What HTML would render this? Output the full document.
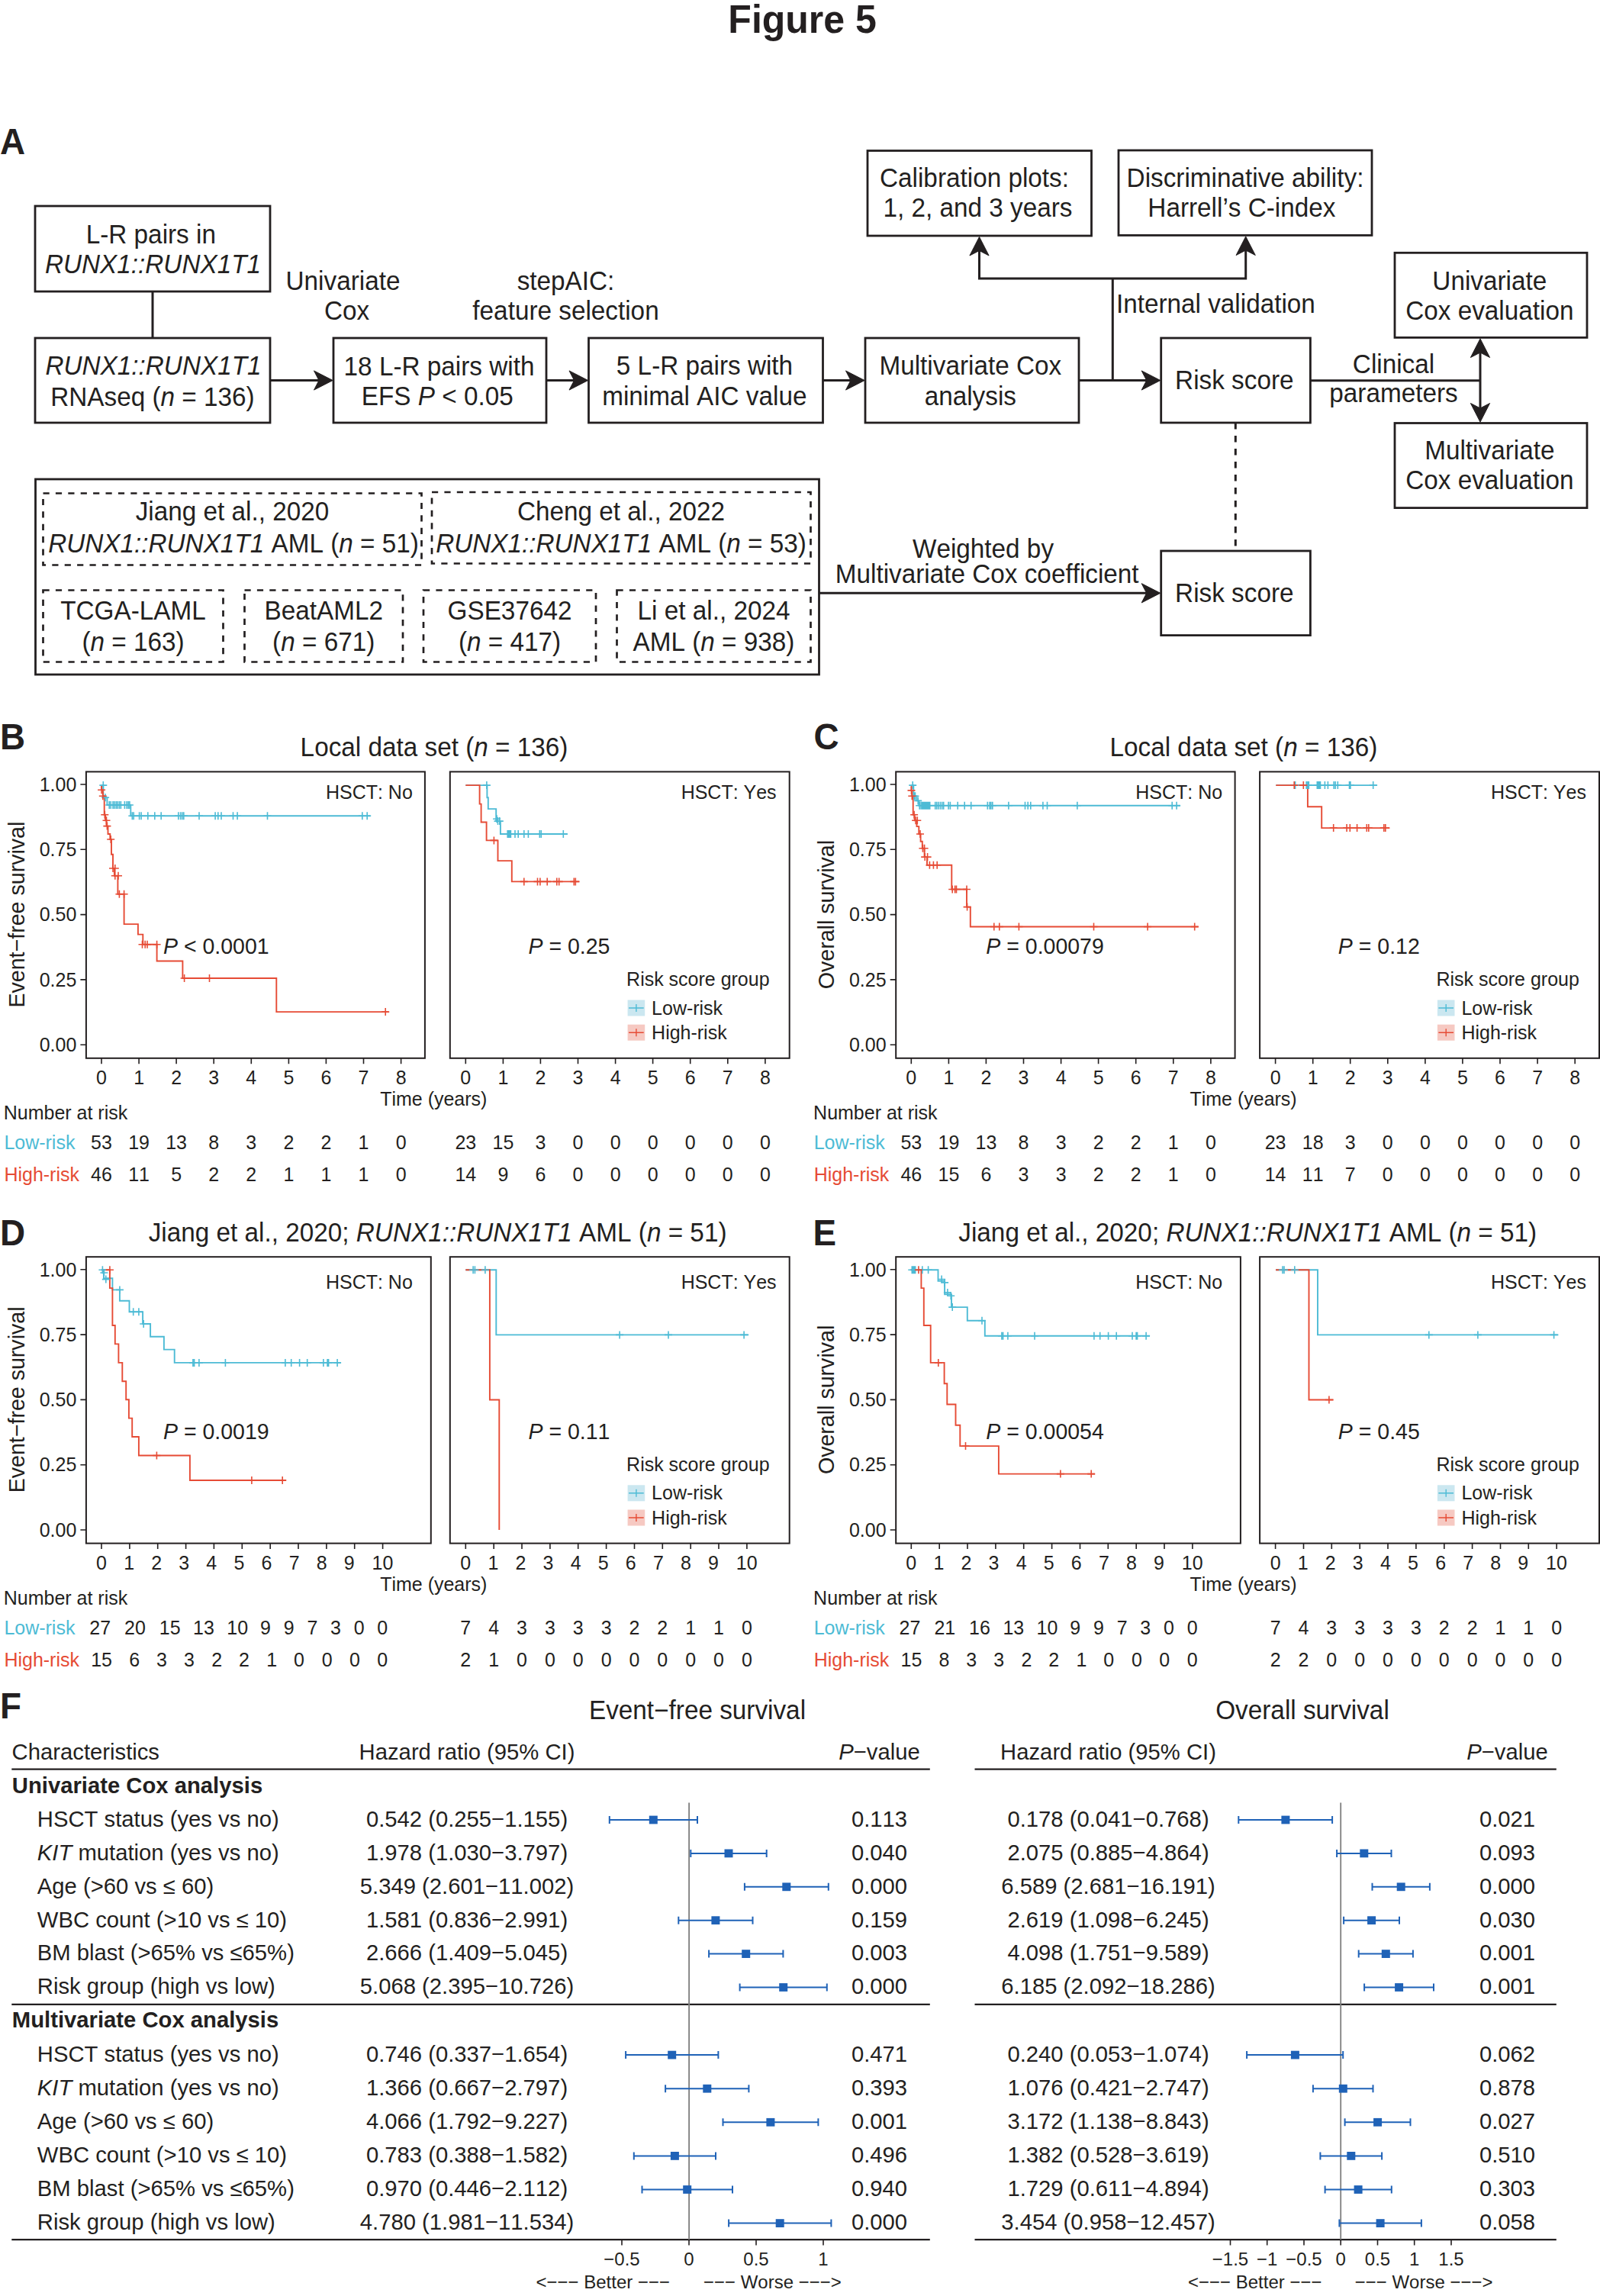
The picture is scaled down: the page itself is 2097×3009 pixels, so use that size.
<!DOCTYPE html>
<html lang="en"><head><meta charset="utf-8"><title>Figure 5</title>
<style>
html,body{margin:0;padding:0;background:#fff;}
body{width:2097px;height:3009px;overflow:hidden;}
svg{display:block;font-family:"Liberation Sans",Arial,Helvetica,sans-serif;fill:#231f20;font-kerning:none;font-variant-ligatures:none;}
</style></head><body>
<svg width="2097" height="3009" viewBox="0 0 2097 3009">
<rect x="0" y="0" width="2097" height="3009" fill="#ffffff" stroke="none"/>
<text transform="translate(1051.6 42.8) scale(1 1.03)" font-size="50" text-anchor="middle" font-weight="bold">Figure 5</text>
<text transform="translate(0.0 202.0) scale(1 1.03)" font-size="45.8" font-weight="bold">A</text>
<text transform="translate(0.0 982.0) scale(1 1.03)" font-size="45.8" font-weight="bold">B</text>
<text transform="translate(1066.5 982.0) scale(1 1.03)" font-size="45.8" font-weight="bold">C</text>
<text transform="translate(0.0 1632.4) scale(1 1.03)" font-size="45.8" font-weight="bold">D</text>
<text transform="translate(1065.5 1632.4) scale(1 1.03)" font-size="45.8" font-weight="bold">E</text>
<text transform="translate(0.0 2251.9) scale(1 1.03)" font-size="45.8" font-weight="bold">F</text>
<rect x="46.0" y="270.0" width="308.0" height="112.0" fill="none" stroke="#231f20" stroke-width="2.8"/>
<text transform="translate(197.8 319.0) scale(1 1.03)" font-size="33.3" text-anchor="middle">L-R pairs in</text>
<text transform="translate(200.5 357.8) scale(1 1.03)" font-size="33.3" text-anchor="middle"><tspan font-style="italic">RUNX1::RUNX1T1</tspan></text>
<line x1="200.0" y1="382.0" x2="200.0" y2="443.0" stroke="#231f20" stroke-width="3.0"/>
<rect x="46.0" y="443.0" width="308.0" height="111.0" fill="none" stroke="#231f20" stroke-width="2.8"/>
<text transform="translate(201.0 491.3) scale(1 1.03)" font-size="33.3" text-anchor="middle"><tspan font-style="italic">RUNX1::RUNX1T1</tspan></text>
<text transform="translate(200.0 532.0) scale(1 1.03)" font-size="33.3" text-anchor="middle">RNAseq (<tspan font-style="italic">n</tspan> = 136)</text>
<line x1="354.0" y1="498.5" x2="425.0" y2="498.5" stroke="#231f20" stroke-width="3.0"/>
<polygon points="436.1,498.5 411.5,485.9 418.0,498.5 411.5,511.1" fill="#231f20" stroke="#231f20" stroke-width="1"/>
<text transform="translate(449.5 380.0) scale(1 1.03)" font-size="33.3" text-anchor="middle">Univariate</text>
<text transform="translate(454.5 419.0) scale(1 1.03)" font-size="33.3" text-anchor="middle">Cox</text>
<rect x="437.0" y="443.0" width="279.0" height="111.0" fill="none" stroke="#231f20" stroke-width="2.8"/>
<text transform="translate(575.5 491.5) scale(1 1.03)" font-size="33.3" text-anchor="middle">18 L-R pairs with</text>
<text transform="translate(573.3 530.5) scale(1 1.03)" font-size="33.3" text-anchor="middle">EFS <tspan font-style="italic">P</tspan> &lt; 0.05</text>
<line x1="716.0" y1="498.5" x2="760.0" y2="498.5" stroke="#231f20" stroke-width="3.0"/>
<polygon points="770.6,498.5 746.0,485.9 752.5,498.5 746.0,511.1" fill="#231f20" stroke="#231f20" stroke-width="1"/>
<text transform="translate(741.5 380.0) scale(1 1.03)" font-size="33.3" text-anchor="middle">stepAIC:</text>
<text transform="translate(741.5 419.0) scale(1 1.03)" font-size="33.3" text-anchor="middle">feature selection</text>
<rect x="771.5" y="443.0" width="307.0" height="111.0" fill="none" stroke="#231f20" stroke-width="2.8"/>
<text transform="translate(923.5 491.0) scale(1 1.03)" font-size="33.3" text-anchor="middle">5 L-R pairs with</text>
<text transform="translate(923.3 530.5) scale(1 1.03)" font-size="33.3" text-anchor="middle">minimal AIC value</text>
<line x1="1078.5" y1="498.5" x2="1122.0" y2="498.5" stroke="#231f20" stroke-width="3.0"/>
<polygon points="1133.1,498.5 1108.5,485.9 1115.0,498.5 1108.5,511.1" fill="#231f20" stroke="#231f20" stroke-width="1"/>
<rect x="1134.0" y="443.0" width="280.0" height="111.0" fill="none" stroke="#231f20" stroke-width="2.8"/>
<text transform="translate(1271.8 491.0) scale(1 1.03)" font-size="33.3" text-anchor="middle">Multivariate Cox</text>
<text transform="translate(1271.8 530.5) scale(1 1.03)" font-size="33.3" text-anchor="middle">analysis</text>
<line x1="1414.0" y1="498.5" x2="1510.0" y2="498.5" stroke="#231f20" stroke-width="3.0"/>
<polygon points="1520.8,498.5 1496.2,485.9 1502.7,498.5 1496.2,511.1" fill="#231f20" stroke="#231f20" stroke-width="1"/>
<path d="M1458.3,498.5 V365 M1283.5,322 V365 H1632.7 V322" fill="none" stroke="#231f20" stroke-width="3.0"/>
<polygon points="1283.5,310.4 1270.9,335.0 1283.5,328.5 1296.1,335.0" fill="#231f20" stroke="#231f20" stroke-width="1"/>
<polygon points="1632.7,309.9 1620.1,334.5 1632.7,328.0 1645.3,334.5" fill="#231f20" stroke="#231f20" stroke-width="1"/>
<rect x="1137.0" y="197.5" width="293.5" height="111.5" fill="none" stroke="#231f20" stroke-width="2.8"/>
<text transform="translate(1277.0 245.0) scale(1 1.03)" font-size="33.3" text-anchor="middle">Calibration plots:</text>
<text transform="translate(1281.5 284.0) scale(1 1.03)" font-size="33.3" text-anchor="middle">1, 2, and 3 years</text>
<rect x="1466.0" y="197.0" width="332.0" height="111.4" fill="none" stroke="#231f20" stroke-width="2.8"/>
<text transform="translate(1632.0 245.0) scale(1 1.03)" font-size="33.3" text-anchor="middle">Discriminative ability:</text>
<text transform="translate(1627.4 284.0) scale(1 1.03)" font-size="33.3" text-anchor="middle">Harrell’s C-index</text>
<text transform="translate(1462.9 410.0) scale(1 1.03)" font-size="33.3">Internal validation</text>
<rect x="1521.7" y="443.0" width="195.7" height="111.0" fill="none" stroke="#231f20" stroke-width="2.8"/>
<text transform="translate(1617.8 509.7) scale(1 1.03)" font-size="33.3" text-anchor="middle">Risk score</text>
<line x1="1717.4" y1="498.7" x2="1940.0" y2="498.7" stroke="#231f20" stroke-width="3.0"/>
<line x1="1940.0" y1="455.0" x2="1940.0" y2="542.0" stroke="#231f20" stroke-width="3.0"/>
<polygon points="1940.0,443.9 1927.4,468.5 1940.0,462.0 1952.6,468.5" fill="#231f20" stroke="#231f20" stroke-width="1"/>
<polygon points="1940.0,553.1 1927.4,528.5 1940.0,535.0 1952.6,528.5" fill="#231f20" stroke="#231f20" stroke-width="1"/>
<text transform="translate(1826.5 488.7) scale(1 1.03)" font-size="33.3" text-anchor="middle">Clinical</text>
<text transform="translate(1826.5 527.0) scale(1 1.03)" font-size="33.3" text-anchor="middle">parameters</text>
<rect x="1828.0" y="331.3" width="252.0" height="111.1" fill="none" stroke="#231f20" stroke-width="2.8"/>
<text transform="translate(1952.3 379.7) scale(1 1.03)" font-size="33.3" text-anchor="middle">Univariate</text>
<text transform="translate(1952.3 418.7) scale(1 1.03)" font-size="33.3" text-anchor="middle">Cox evaluation</text>
<rect x="1828.0" y="554.5" width="252.0" height="111.1" fill="none" stroke="#231f20" stroke-width="2.8"/>
<text transform="translate(1952.3 602.3) scale(1 1.03)" font-size="33.3" text-anchor="middle">Multivariate</text>
<text transform="translate(1952.3 640.7) scale(1 1.03)" font-size="33.3" text-anchor="middle">Cox evaluation</text>
<line x1="1619.3" y1="554.0" x2="1619.3" y2="722.0" stroke="#231f20" stroke-width="3.0" stroke-dasharray="8.5 8.5"/>
<rect x="1521.7" y="722.0" width="195.7" height="110.6" fill="none" stroke="#231f20" stroke-width="2.8"/>
<text transform="translate(1617.8 789.3) scale(1 1.03)" font-size="33.3" text-anchor="middle">Risk score</text>
<rect x="46.5" y="628.0" width="1027.0" height="256.0" fill="none" stroke="#231f20" stroke-width="2.8"/>
<rect x="56.5" y="646.5" width="496.0" height="94.0" fill="none" stroke="#231f20" stroke-width="2.7" stroke-dasharray="8.2 8.2"/>
<text transform="translate(304.5 681.5) scale(1 1.03)" font-size="33.3" text-anchor="middle">Jiang et al., 2020</text>
<text transform="translate(306.0 723.5) scale(1 1.03)" font-size="33.3" text-anchor="middle"><tspan font-style="italic">RUNX1::RUNX1T1</tspan> AML (<tspan font-style="italic">n</tspan> = 51)</text>
<rect x="566.0" y="645.0" width="496.5" height="93.5" fill="none" stroke="#231f20" stroke-width="2.7" stroke-dasharray="8.2 8.2"/>
<text transform="translate(814.0 681.5) scale(1 1.03)" font-size="33.3" text-anchor="middle">Cheng et al., 2022</text>
<text transform="translate(814.0 723.5) scale(1 1.03)" font-size="33.3" text-anchor="middle"><tspan font-style="italic">RUNX1::RUNX1T1</tspan> AML (<tspan font-style="italic">n</tspan> = 53)</text>
<rect x="56.5" y="773.5" width="236.0" height="94.0" fill="none" stroke="#231f20" stroke-width="2.7" stroke-dasharray="8.2 8.2"/>
<text transform="translate(174.5 811.5) scale(1 1.03)" font-size="33.3" text-anchor="middle">TCGA-LAML</text>
<text transform="translate(174.5 852.5) scale(1 1.03)" font-size="33.3" text-anchor="middle">(<tspan font-style="italic">n</tspan> = 163)</text>
<rect x="320.5" y="773.5" width="207.5" height="94.0" fill="none" stroke="#231f20" stroke-width="2.7" stroke-dasharray="8.2 8.2"/>
<text transform="translate(424.2 811.5) scale(1 1.03)" font-size="33.3" text-anchor="middle">BeatAML2</text>
<text transform="translate(424.2 852.5) scale(1 1.03)" font-size="33.3" text-anchor="middle">(<tspan font-style="italic">n</tspan> = 671)</text>
<rect x="555.0" y="773.5" width="226.0" height="94.0" fill="none" stroke="#231f20" stroke-width="2.7" stroke-dasharray="8.2 8.2"/>
<text transform="translate(668.0 811.5) scale(1 1.03)" font-size="33.3" text-anchor="middle">GSE37642</text>
<text transform="translate(668.0 852.5) scale(1 1.03)" font-size="33.3" text-anchor="middle">(<tspan font-style="italic">n</tspan> = 417)</text>
<rect x="808.5" y="773.5" width="254.0" height="94.0" fill="none" stroke="#231f20" stroke-width="2.7" stroke-dasharray="8.2 8.2"/>
<text transform="translate(935.5 811.5) scale(1 1.03)" font-size="33.3" text-anchor="middle">Li et al., 2024</text>
<text transform="translate(935.5 852.5) scale(1 1.03)" font-size="33.3" text-anchor="middle">AML (<tspan font-style="italic">n</tspan> = 938)</text>
<line x1="1073.5" y1="777.3" x2="1510.0" y2="777.3" stroke="#231f20" stroke-width="3.0"/>
<polygon points="1520.8,777.3 1496.2,764.7 1502.7,777.3 1496.2,789.9" fill="#231f20" stroke="#231f20" stroke-width="1"/>
<text transform="translate(1288.5 731.0) scale(1 1.03)" font-size="33.3" text-anchor="middle">Weighted by</text>
<text transform="translate(1293.7 764.0) scale(1 1.03)" font-size="33.3" text-anchor="middle">Multivariate Cox coefficient</text>
<text transform="translate(569.0 991.0) scale(1 1.03)" font-size="33.3" text-anchor="middle">Local data set (<tspan font-style="italic">n</tspan> = 136)</text>
<rect x="112.9" y="1011.4" width="444.0" height="375.4" fill="none" stroke="#231f20" stroke-width="2"/>
<path d="M133.0,1386.8v7.5M182.1,1386.8v7.5M231.1,1386.8v7.5M280.2,1386.8v7.5M329.3,1386.8v7.5M378.4,1386.8v7.5M427.4,1386.8v7.5M476.5,1386.8v7.5M525.6,1386.8v7.5M112.9,1028.0h-7.5M112.9,1113.3h-7.5M112.9,1198.6h-7.5M112.9,1283.9h-7.5M112.9,1369.2h-7.5" fill="none" stroke="#231f20" stroke-width="1.6"/>
<rect x="589.8" y="1011.4" width="444.9" height="375.4" fill="none" stroke="#231f20" stroke-width="2"/>
<path d="M610.3,1386.8v7.5M659.4,1386.8v7.5M708.4,1386.8v7.5M757.5,1386.8v7.5M806.6,1386.8v7.5M855.6,1386.8v7.5M904.7,1386.8v7.5M953.8,1386.8v7.5M1002.9,1386.8v7.5" fill="none" stroke="#231f20" stroke-width="1.6"/>
<text transform="translate(100.3 1036.7) scale(1 1.03)" font-size="25" text-anchor="end">1.00</text>
<text transform="translate(100.3 1122.0) scale(1 1.03)" font-size="25" text-anchor="end">0.75</text>
<text transform="translate(100.3 1207.3) scale(1 1.03)" font-size="25" text-anchor="end">0.50</text>
<text transform="translate(100.3 1292.6) scale(1 1.03)" font-size="25" text-anchor="end">0.25</text>
<text transform="translate(100.3 1377.9) scale(1 1.03)" font-size="25" text-anchor="end">0.00</text>
<text transform="translate(31.6,1198.6) rotate(-90) scale(1 1.03)" font-size="28.6" text-anchor="middle">Event−free survival</text>
<text transform="translate(133.0 1421.1) scale(1 1.03)" font-size="25" text-anchor="middle">0</text>
<text transform="translate(182.1 1421.1) scale(1 1.03)" font-size="25" text-anchor="middle">1</text>
<text transform="translate(231.1 1421.1) scale(1 1.03)" font-size="25" text-anchor="middle">2</text>
<text transform="translate(280.2 1421.1) scale(1 1.03)" font-size="25" text-anchor="middle">3</text>
<text transform="translate(329.3 1421.1) scale(1 1.03)" font-size="25" text-anchor="middle">4</text>
<text transform="translate(378.4 1421.1) scale(1 1.03)" font-size="25" text-anchor="middle">5</text>
<text transform="translate(427.4 1421.1) scale(1 1.03)" font-size="25" text-anchor="middle">6</text>
<text transform="translate(476.5 1421.1) scale(1 1.03)" font-size="25" text-anchor="middle">7</text>
<text transform="translate(525.6 1421.1) scale(1 1.03)" font-size="25" text-anchor="middle">8</text>
<text transform="translate(610.3 1421.1) scale(1 1.03)" font-size="25" text-anchor="middle">0</text>
<text transform="translate(659.4 1421.1) scale(1 1.03)" font-size="25" text-anchor="middle">1</text>
<text transform="translate(708.4 1421.1) scale(1 1.03)" font-size="25" text-anchor="middle">2</text>
<text transform="translate(757.5 1421.1) scale(1 1.03)" font-size="25" text-anchor="middle">3</text>
<text transform="translate(806.6 1421.1) scale(1 1.03)" font-size="25" text-anchor="middle">4</text>
<text transform="translate(855.6 1421.1) scale(1 1.03)" font-size="25" text-anchor="middle">5</text>
<text transform="translate(904.7 1421.1) scale(1 1.03)" font-size="25" text-anchor="middle">6</text>
<text transform="translate(953.8 1421.1) scale(1 1.03)" font-size="25" text-anchor="middle">7</text>
<text transform="translate(1002.9 1421.1) scale(1 1.03)" font-size="25" text-anchor="middle">8</text>
<text transform="translate(568.3 1448.8) scale(1 1.03)" font-size="25" text-anchor="middle">Time (years)</text>
<text transform="translate(4.8 1467.2) scale(1 1.03)" font-size="25">Number at risk</text>
<text transform="translate(5.4 1506.2) scale(1 1.03)" font-size="25" fill="#4dbbd5">Low-risk</text>
<text transform="translate(5.4 1547.8) scale(1 1.03)" font-size="25" fill="#e64b35">High-risk</text>
<text transform="translate(133.0 1506.2) scale(1 1.03)" font-size="25" text-anchor="middle">53</text>
<text transform="translate(182.1 1506.2) scale(1 1.03)" font-size="25" text-anchor="middle">19</text>
<text transform="translate(231.1 1506.2) scale(1 1.03)" font-size="25" text-anchor="middle">13</text>
<text transform="translate(280.2 1506.2) scale(1 1.03)" font-size="25" text-anchor="middle">8</text>
<text transform="translate(329.3 1506.2) scale(1 1.03)" font-size="25" text-anchor="middle">3</text>
<text transform="translate(378.4 1506.2) scale(1 1.03)" font-size="25" text-anchor="middle">2</text>
<text transform="translate(427.4 1506.2) scale(1 1.03)" font-size="25" text-anchor="middle">2</text>
<text transform="translate(476.5 1506.2) scale(1 1.03)" font-size="25" text-anchor="middle">1</text>
<text transform="translate(525.6 1506.2) scale(1 1.03)" font-size="25" text-anchor="middle">0</text>
<text transform="translate(133.0 1547.8) scale(1 1.03)" font-size="25" text-anchor="middle">46</text>
<text transform="translate(182.1 1547.8) scale(1 1.03)" font-size="25" text-anchor="middle">11</text>
<text transform="translate(231.1 1547.8) scale(1 1.03)" font-size="25" text-anchor="middle">5</text>
<text transform="translate(280.2 1547.8) scale(1 1.03)" font-size="25" text-anchor="middle">2</text>
<text transform="translate(329.3 1547.8) scale(1 1.03)" font-size="25" text-anchor="middle">2</text>
<text transform="translate(378.4 1547.8) scale(1 1.03)" font-size="25" text-anchor="middle">1</text>
<text transform="translate(427.4 1547.8) scale(1 1.03)" font-size="25" text-anchor="middle">1</text>
<text transform="translate(476.5 1547.8) scale(1 1.03)" font-size="25" text-anchor="middle">1</text>
<text transform="translate(525.6 1547.8) scale(1 1.03)" font-size="25" text-anchor="middle">0</text>
<text transform="translate(610.3 1506.2) scale(1 1.03)" font-size="25" text-anchor="middle">23</text>
<text transform="translate(659.4 1506.2) scale(1 1.03)" font-size="25" text-anchor="middle">15</text>
<text transform="translate(708.4 1506.2) scale(1 1.03)" font-size="25" text-anchor="middle">3</text>
<text transform="translate(757.5 1506.2) scale(1 1.03)" font-size="25" text-anchor="middle">0</text>
<text transform="translate(806.6 1506.2) scale(1 1.03)" font-size="25" text-anchor="middle">0</text>
<text transform="translate(855.6 1506.2) scale(1 1.03)" font-size="25" text-anchor="middle">0</text>
<text transform="translate(904.7 1506.2) scale(1 1.03)" font-size="25" text-anchor="middle">0</text>
<text transform="translate(953.8 1506.2) scale(1 1.03)" font-size="25" text-anchor="middle">0</text>
<text transform="translate(1002.9 1506.2) scale(1 1.03)" font-size="25" text-anchor="middle">0</text>
<text transform="translate(610.3 1547.8) scale(1 1.03)" font-size="25" text-anchor="middle">14</text>
<text transform="translate(659.4 1547.8) scale(1 1.03)" font-size="25" text-anchor="middle">9</text>
<text transform="translate(708.4 1547.8) scale(1 1.03)" font-size="25" text-anchor="middle">6</text>
<text transform="translate(757.5 1547.8) scale(1 1.03)" font-size="25" text-anchor="middle">0</text>
<text transform="translate(806.6 1547.8) scale(1 1.03)" font-size="25" text-anchor="middle">0</text>
<text transform="translate(855.6 1547.8) scale(1 1.03)" font-size="25" text-anchor="middle">0</text>
<text transform="translate(904.7 1547.8) scale(1 1.03)" font-size="25" text-anchor="middle">0</text>
<text transform="translate(953.8 1547.8) scale(1 1.03)" font-size="25" text-anchor="middle">0</text>
<text transform="translate(1002.9 1547.8) scale(1 1.03)" font-size="25" text-anchor="middle">0</text>
<text transform="translate(540.8 1046.8) scale(1 1.03)" font-size="25" text-anchor="end">HSCT: No</text>
<text transform="translate(1017.6 1046.8) scale(1 1.03)" font-size="25" text-anchor="end">HSCT: Yes</text>
<text transform="translate(214.0 1250.2) scale(1 1.03)" font-size="28.5"><tspan font-style="italic">P</tspan> &lt; 0.0001</text>
<text transform="translate(692.5 1250.2) scale(1 1.03)" font-size="28.5"><tspan font-style="italic">P</tspan> = 0.25</text>
<text transform="translate(821.1 1292.2) scale(1 1.03)" font-size="25">Risk score group</text>
<rect x="822.6" y="1310.5" width="22.6" height="21" fill="#cbe7f0"/>
<path d="M824.1,1321.0h19.6M833.9,1316.0v10" fill="none" stroke="#4dbbd5" stroke-width="1.4"/>
<text transform="translate(854.1 1329.5) scale(1 1.03)" font-size="25">Low-risk</text>
<rect x="822.6" y="1342.7" width="22.6" height="21" fill="#f6c9c2"/>
<path d="M824.1,1353.2h19.6M833.9,1348.2v10" fill="none" stroke="#e64b35" stroke-width="1.4"/>
<text transform="translate(854.1 1361.7) scale(1 1.03)" font-size="25">High-risk</text>
<path d="M133.1,1029.1 H135.3 V1045.2 H140.4 V1055.0 H171.3 V1069.3 H485.5" fill="none" stroke="#4dbbd5" stroke-width="1.9" stroke-linejoin="miter"/>
<path d="M133.1,1029.1 H133.1 V1035.3 H134.8 V1043.2 H136.7 V1067.7 H138.1 V1075.2 H139.5 V1082.6 H141.5 V1093.0 H144.3 V1100.0 H146.0 V1119.7 H148.0 V1138.0 H149.9 V1147.8 H154.4 V1171.7 H162.6 V1211.1 H180.9 V1224.6 H187.3 V1237.8 H205.6 V1259.5 H239.4 V1282.0 H362.3 V1326.1 H509.4" fill="none" stroke="#e64b35" stroke-width="1.9" stroke-linejoin="miter"/>
<path d="M610.3,1029.1 H638.4 V1045.2 H639.8 V1060.1 H650.2 V1076.1 H655.9 V1093.0 H743.9" fill="none" stroke="#4dbbd5" stroke-width="1.9" stroke-linejoin="miter"/>
<path d="M610.3,1029.1 H628.6 V1053.6 H630.6 V1077.5 H637.6 V1101.4 H652.5 V1128.1 H670.8 V1155.4 H759.4" fill="none" stroke="#e64b35" stroke-width="1.9" stroke-linejoin="miter"/>
<path d="M130.3,1029.1h10M135.3,1024.1v10M133.1,1045.2h10M138.1,1040.2v10M138.2,1055.0h10M143.2,1050.0v10M140.2,1055.0h10M145.2,1050.0v10M143.0,1055.0h10M148.0,1050.0v10M144.9,1055.0h10M149.9,1050.0v10M147.2,1055.0h10M152.2,1050.0v10M149.2,1055.0h10M154.2,1050.0v10M151.4,1055.0h10M156.4,1050.0v10M153.4,1055.0h10M158.4,1050.0v10M158.4,1055.0h10M163.4,1050.0v10M161.2,1055.0h10M166.2,1050.0v10M163.2,1055.0h10M168.2,1050.0v10M164.9,1055.0h10M169.9,1050.0v10M168.3,1069.3h10M173.3,1064.3v10M170.2,1069.3h10M175.2,1064.3v10M177.6,1069.3h10M182.6,1064.3v10M180.1,1069.3h10M185.1,1064.3v10M188.8,1069.3h10M193.8,1064.3v10M197.8,1069.3h10M202.8,1064.3v10M206.2,1069.3h10M211.2,1064.3v10M228.8,1069.3h10M233.8,1064.3v10M231.6,1069.3h10M236.6,1064.3v10M233.8,1069.3h10M238.8,1064.3v10M235.8,1069.3h10M240.8,1064.3v10M256.0,1069.3h10M261.0,1064.3v10M277.1,1069.3h10M282.1,1064.3v10M280.8,1069.3h10M285.8,1064.3v10M285.0,1069.3h10M290.0,1064.3v10M300.5,1069.3h10M305.5,1064.3v10M306.1,1069.3h10M311.1,1064.3v10M345.5,1069.3h10M350.5,1064.3v10M469.8,1069.3h10M474.8,1064.3v10M476.2,1069.3h10M481.2,1064.3v10" fill="none" stroke="#4dbbd5" stroke-width="1.6"/>
<path d="M128.1,1035.3h10M133.1,1030.3v10M129.8,1043.2h10M134.8,1038.2v10M132.3,1067.7h10M137.3,1062.7v10M134.5,1075.2h10M139.5,1070.2v10M135.4,1082.6h10M140.4,1077.6v10M140.2,1100.0h10M145.2,1095.0v10M143.0,1138.0h10M148.0,1133.0v10M145.8,1138.0h10M150.8,1133.0v10M145.8,1147.8h10M150.8,1142.8v10M150.0,1147.8h10M155.0,1142.8v10M151.4,1171.7h10M156.4,1166.7v10M157.6,1171.7h10M162.6,1166.7v10M181.5,1237.8h10M186.5,1232.8v10M185.2,1237.8h10M190.2,1232.8v10M188.0,1237.8h10M193.0,1232.8v10M200.6,1237.8h10M205.6,1232.8v10M236.6,1282.0h10M241.6,1277.0v10M269.5,1282.0h10M274.5,1277.0v10M500.2,1326.1h10M505.2,1321.1v10" fill="none" stroke="#e64b35" stroke-width="1.6"/>
<path d="M632.9,1029.1h10M637.9,1024.1v10M646.1,1073.3h10M651.1,1068.3v10M647.5,1076.1h10M652.5,1071.1v10M649.8,1076.1h10M654.8,1071.1v10M660.2,1093.0h10M665.2,1088.0v10M661.6,1093.0h10M666.6,1088.0v10M663.0,1093.0h10M668.0,1088.0v10M664.4,1093.0h10M669.4,1088.0v10M670.0,1093.0h10M675.0,1088.0v10M674.2,1093.0h10M679.2,1088.0v10M681.8,1093.0h10M686.8,1088.0v10M687.4,1093.0h10M692.4,1088.0v10M702.3,1093.0h10M707.3,1088.0v10M704.3,1093.0h10M709.3,1088.0v10M733.3,1093.0h10M738.3,1088.0v10" fill="none" stroke="#4dbbd5" stroke-width="1.6"/>
<path d="M642.4,1101.4h10M647.4,1096.4v10M681.8,1155.4h10M686.8,1150.4v10M699.5,1155.4h10M704.5,1150.4v10M702.9,1155.4h10M707.9,1150.4v10M712.2,1155.4h10M717.2,1150.4v10M724.8,1155.4h10M729.8,1150.4v10M727.7,1155.4h10M732.7,1150.4v10M747.3,1155.4h10M752.3,1150.4v10M749.3,1155.4h10M754.3,1150.4v10" fill="none" stroke="#e64b35" stroke-width="1.6"/>
<text transform="translate(1629.9 990.5) scale(1 1.03)" font-size="33.3" text-anchor="middle">Local data set (<tspan font-style="italic">n</tspan> = 136)</text>
<rect x="1174.2" y="1011.4" width="444.4" height="375.4" fill="none" stroke="#231f20" stroke-width="2"/>
<path d="M1194.3,1386.8v7.5M1243.4,1386.8v7.5M1292.4,1386.8v7.5M1341.5,1386.8v7.5M1390.6,1386.8v7.5M1439.6,1386.8v7.5M1488.7,1386.8v7.5M1537.8,1386.8v7.5M1586.9,1386.8v7.5M1174.2,1028.0h-7.5M1174.2,1113.3h-7.5M1174.2,1198.6h-7.5M1174.2,1283.9h-7.5M1174.2,1369.2h-7.5" fill="none" stroke="#231f20" stroke-width="1.6"/>
<rect x="1651.1" y="1011.4" width="444.9" height="375.4" fill="none" stroke="#231f20" stroke-width="2"/>
<path d="M1671.6,1386.8v7.5M1720.7,1386.8v7.5M1769.7,1386.8v7.5M1818.8,1386.8v7.5M1867.9,1386.8v7.5M1916.9,1386.8v7.5M1966.0,1386.8v7.5M2015.1,1386.8v7.5M2064.2,1386.8v7.5" fill="none" stroke="#231f20" stroke-width="1.6"/>
<text transform="translate(1161.6 1036.7) scale(1 1.03)" font-size="25" text-anchor="end">1.00</text>
<text transform="translate(1161.6 1122.0) scale(1 1.03)" font-size="25" text-anchor="end">0.75</text>
<text transform="translate(1161.6 1207.3) scale(1 1.03)" font-size="25" text-anchor="end">0.50</text>
<text transform="translate(1161.6 1292.6) scale(1 1.03)" font-size="25" text-anchor="end">0.25</text>
<text transform="translate(1161.6 1377.9) scale(1 1.03)" font-size="25" text-anchor="end">0.00</text>
<text transform="translate(1092.9,1198.6) rotate(-90) scale(1 1.03)" font-size="28.6" text-anchor="middle">Overall survival</text>
<text transform="translate(1194.3 1421.1) scale(1 1.03)" font-size="25" text-anchor="middle">0</text>
<text transform="translate(1243.4 1421.1) scale(1 1.03)" font-size="25" text-anchor="middle">1</text>
<text transform="translate(1292.4 1421.1) scale(1 1.03)" font-size="25" text-anchor="middle">2</text>
<text transform="translate(1341.5 1421.1) scale(1 1.03)" font-size="25" text-anchor="middle">3</text>
<text transform="translate(1390.6 1421.1) scale(1 1.03)" font-size="25" text-anchor="middle">4</text>
<text transform="translate(1439.6 1421.1) scale(1 1.03)" font-size="25" text-anchor="middle">5</text>
<text transform="translate(1488.7 1421.1) scale(1 1.03)" font-size="25" text-anchor="middle">6</text>
<text transform="translate(1537.8 1421.1) scale(1 1.03)" font-size="25" text-anchor="middle">7</text>
<text transform="translate(1586.9 1421.1) scale(1 1.03)" font-size="25" text-anchor="middle">8</text>
<text transform="translate(1671.6 1421.1) scale(1 1.03)" font-size="25" text-anchor="middle">0</text>
<text transform="translate(1720.7 1421.1) scale(1 1.03)" font-size="25" text-anchor="middle">1</text>
<text transform="translate(1769.7 1421.1) scale(1 1.03)" font-size="25" text-anchor="middle">2</text>
<text transform="translate(1818.8 1421.1) scale(1 1.03)" font-size="25" text-anchor="middle">3</text>
<text transform="translate(1867.9 1421.1) scale(1 1.03)" font-size="25" text-anchor="middle">4</text>
<text transform="translate(1916.9 1421.1) scale(1 1.03)" font-size="25" text-anchor="middle">5</text>
<text transform="translate(1966.0 1421.1) scale(1 1.03)" font-size="25" text-anchor="middle">6</text>
<text transform="translate(2015.1 1421.1) scale(1 1.03)" font-size="25" text-anchor="middle">7</text>
<text transform="translate(2064.2 1421.1) scale(1 1.03)" font-size="25" text-anchor="middle">8</text>
<text transform="translate(1629.6 1448.8) scale(1 1.03)" font-size="25" text-anchor="middle">Time (years)</text>
<text transform="translate(1066.1 1467.2) scale(1 1.03)" font-size="25">Number at risk</text>
<text transform="translate(1066.7 1506.2) scale(1 1.03)" font-size="25" fill="#4dbbd5">Low-risk</text>
<text transform="translate(1066.7 1547.8) scale(1 1.03)" font-size="25" fill="#e64b35">High-risk</text>
<text transform="translate(1194.3 1506.2) scale(1 1.03)" font-size="25" text-anchor="middle">53</text>
<text transform="translate(1243.4 1506.2) scale(1 1.03)" font-size="25" text-anchor="middle">19</text>
<text transform="translate(1292.4 1506.2) scale(1 1.03)" font-size="25" text-anchor="middle">13</text>
<text transform="translate(1341.5 1506.2) scale(1 1.03)" font-size="25" text-anchor="middle">8</text>
<text transform="translate(1390.6 1506.2) scale(1 1.03)" font-size="25" text-anchor="middle">3</text>
<text transform="translate(1439.6 1506.2) scale(1 1.03)" font-size="25" text-anchor="middle">2</text>
<text transform="translate(1488.7 1506.2) scale(1 1.03)" font-size="25" text-anchor="middle">2</text>
<text transform="translate(1537.8 1506.2) scale(1 1.03)" font-size="25" text-anchor="middle">1</text>
<text transform="translate(1586.9 1506.2) scale(1 1.03)" font-size="25" text-anchor="middle">0</text>
<text transform="translate(1194.3 1547.8) scale(1 1.03)" font-size="25" text-anchor="middle">46</text>
<text transform="translate(1243.4 1547.8) scale(1 1.03)" font-size="25" text-anchor="middle">15</text>
<text transform="translate(1292.4 1547.8) scale(1 1.03)" font-size="25" text-anchor="middle">6</text>
<text transform="translate(1341.5 1547.8) scale(1 1.03)" font-size="25" text-anchor="middle">3</text>
<text transform="translate(1390.6 1547.8) scale(1 1.03)" font-size="25" text-anchor="middle">3</text>
<text transform="translate(1439.6 1547.8) scale(1 1.03)" font-size="25" text-anchor="middle">2</text>
<text transform="translate(1488.7 1547.8) scale(1 1.03)" font-size="25" text-anchor="middle">2</text>
<text transform="translate(1537.8 1547.8) scale(1 1.03)" font-size="25" text-anchor="middle">1</text>
<text transform="translate(1586.9 1547.8) scale(1 1.03)" font-size="25" text-anchor="middle">0</text>
<text transform="translate(1671.6 1506.2) scale(1 1.03)" font-size="25" text-anchor="middle">23</text>
<text transform="translate(1720.7 1506.2) scale(1 1.03)" font-size="25" text-anchor="middle">18</text>
<text transform="translate(1769.7 1506.2) scale(1 1.03)" font-size="25" text-anchor="middle">3</text>
<text transform="translate(1818.8 1506.2) scale(1 1.03)" font-size="25" text-anchor="middle">0</text>
<text transform="translate(1867.9 1506.2) scale(1 1.03)" font-size="25" text-anchor="middle">0</text>
<text transform="translate(1916.9 1506.2) scale(1 1.03)" font-size="25" text-anchor="middle">0</text>
<text transform="translate(1966.0 1506.2) scale(1 1.03)" font-size="25" text-anchor="middle">0</text>
<text transform="translate(2015.1 1506.2) scale(1 1.03)" font-size="25" text-anchor="middle">0</text>
<text transform="translate(2064.2 1506.2) scale(1 1.03)" font-size="25" text-anchor="middle">0</text>
<text transform="translate(1671.6 1547.8) scale(1 1.03)" font-size="25" text-anchor="middle">14</text>
<text transform="translate(1720.7 1547.8) scale(1 1.03)" font-size="25" text-anchor="middle">11</text>
<text transform="translate(1769.7 1547.8) scale(1 1.03)" font-size="25" text-anchor="middle">7</text>
<text transform="translate(1818.8 1547.8) scale(1 1.03)" font-size="25" text-anchor="middle">0</text>
<text transform="translate(1867.9 1547.8) scale(1 1.03)" font-size="25" text-anchor="middle">0</text>
<text transform="translate(1916.9 1547.8) scale(1 1.03)" font-size="25" text-anchor="middle">0</text>
<text transform="translate(1966.0 1547.8) scale(1 1.03)" font-size="25" text-anchor="middle">0</text>
<text transform="translate(2015.1 1547.8) scale(1 1.03)" font-size="25" text-anchor="middle">0</text>
<text transform="translate(2064.2 1547.8) scale(1 1.03)" font-size="25" text-anchor="middle">0</text>
<text transform="translate(1602.1 1046.8) scale(1 1.03)" font-size="25" text-anchor="end">HSCT: No</text>
<text transform="translate(2078.9 1046.8) scale(1 1.03)" font-size="25" text-anchor="end">HSCT: Yes</text>
<text transform="translate(1292.3 1250.2) scale(1 1.03)" font-size="28.5"><tspan font-style="italic">P</tspan> = 0.00079</text>
<text transform="translate(1753.8 1250.2) scale(1 1.03)" font-size="28.5"><tspan font-style="italic">P</tspan> = 0.12</text>
<text transform="translate(1882.4 1292.2) scale(1 1.03)" font-size="25">Risk score group</text>
<rect x="1883.9" y="1310.5" width="22.6" height="21" fill="#cbe7f0"/>
<path d="M1885.4,1321.0h19.6M1895.2,1316.0v10" fill="none" stroke="#4dbbd5" stroke-width="1.4"/>
<text transform="translate(1915.4 1329.5) scale(1 1.03)" font-size="25">Low-risk</text>
<rect x="1883.9" y="1342.7" width="22.6" height="21" fill="#f6c9c2"/>
<path d="M1885.4,1353.2h19.6M1895.2,1348.2v10" fill="none" stroke="#e64b35" stroke-width="1.4"/>
<text transform="translate(1915.4 1361.7) scale(1 1.03)" font-size="25">High-risk</text>
<path d="M1194.5,1029.1 H1197.3 V1043.2 H1201.5 V1049.4 H1204.3 V1055.8 H1546.9" fill="none" stroke="#4dbbd5" stroke-width="1.9" stroke-linejoin="miter"/>
<path d="M1194.5,1029.1 H1194.5 V1035.9 H1195.3 V1043.2 H1196.7 V1067.7 H1198.7 V1075.2 H1201.5 V1083.1 H1204.3 V1093.0 H1206.6 V1102.8 H1208.8 V1111.8 H1211.6 V1123.1 H1215.0 V1133.8 H1247.3 V1165.5 H1267.0 V1188.6 H1271.8 V1214.5 H1570.8" fill="none" stroke="#e64b35" stroke-width="1.9" stroke-linejoin="miter"/>
<path d="M1672.3,1029.1 H1805.1" fill="none" stroke="#4dbbd5" stroke-width="1.9" stroke-linejoin="miter"/>
<path d="M1672.3,1029.1 H1713.9 V1057.2 H1732.2 V1085.1 H1821.4" fill="none" stroke="#e64b35" stroke-width="1.9" stroke-linejoin="miter"/>
<path d="M1191.2,1029.1h10M1196.2,1024.1v10M1193.1,1043.2h10M1198.1,1038.2v10M1194.5,1043.2h10M1199.5,1038.2v10M1198.2,1049.4h10M1203.2,1044.4v10M1200.2,1055.8h10M1205.2,1050.8v10M1202.1,1055.8h10M1207.1,1050.8v10M1203.8,1055.8h10M1208.8,1050.8v10M1205.2,1055.8h10M1210.2,1050.8v10M1206.6,1055.8h10M1211.6,1050.8v10M1208.0,1055.8h10M1213.0,1050.8v10M1209.4,1055.8h10M1214.4,1050.8v10M1210.8,1055.8h10M1215.8,1050.8v10M1212.2,1055.8h10M1217.2,1050.8v10M1213.7,1055.8h10M1218.7,1050.8v10M1220.7,1055.8h10M1225.7,1050.8v10M1222.7,1055.8h10M1227.7,1050.8v10M1224.9,1055.8h10M1229.9,1050.8v10M1227.4,1055.8h10M1232.4,1050.8v10M1229.7,1055.8h10M1234.7,1050.8v10M1231.7,1055.8h10M1236.7,1050.8v10M1238.1,1055.8h10M1243.1,1050.8v10M1240.4,1055.8h10M1245.4,1050.8v10M1250.2,1055.8h10M1255.2,1050.8v10M1259.2,1055.8h10M1264.2,1050.8v10M1267.7,1055.8h10M1272.7,1050.8v10M1289.3,1055.8h10M1294.3,1050.8v10M1292.1,1055.8h10M1297.1,1050.8v10M1293.8,1055.8h10M1298.8,1050.8v10M1295.8,1055.8h10M1300.8,1050.8v10M1316.9,1055.8h10M1321.9,1050.8v10M1338.5,1055.8h10M1343.5,1050.8v10M1342.2,1055.8h10M1347.2,1050.8v10M1345.8,1055.8h10M1350.8,1050.8v10M1361.9,1055.8h10M1366.9,1050.8v10M1367.5,1055.8h10M1372.5,1050.8v10M1406.9,1055.8h10M1411.9,1050.8v10M1531.2,1055.8h10M1536.2,1050.8v10M1537.1,1055.8h10M1542.1,1050.8v10" fill="none" stroke="#4dbbd5" stroke-width="1.6"/>
<path d="M1189.5,1035.9h10M1194.5,1030.9v10M1190.3,1043.2h10M1195.3,1038.2v10M1193.1,1067.7h10M1198.1,1062.7v10M1195.1,1075.2h10M1200.1,1070.2v10M1197.3,1075.2h10M1202.3,1070.2v10M1201.0,1093.0h10M1206.0,1088.0v10M1204.4,1111.8h10M1209.4,1106.8v10M1206.6,1111.8h10M1211.6,1106.8v10M1207.2,1123.1h10M1212.2,1118.1v10M1210.6,1123.1h10M1215.6,1118.1v10M1213.4,1133.8h10M1218.4,1128.8v10M1218.4,1133.8h10M1223.4,1128.8v10M1223.2,1133.8h10M1228.2,1128.8v10M1243.2,1165.5h10M1248.2,1160.5v10M1246.6,1165.5h10M1251.6,1160.5v10M1248.5,1165.5h10M1253.5,1160.5v10M1262.0,1165.5h10M1267.0,1160.5v10M1262.6,1188.6h10M1267.6,1183.6v10M1297.8,1214.5h10M1302.8,1209.5v10M1304.8,1214.5h10M1309.8,1209.5v10M1330.4,1214.5h10M1335.4,1209.5v10M1428.5,1214.5h10M1433.5,1209.5v10M1499.1,1214.5h10M1504.1,1209.5v10M1560.7,1214.5h10M1565.7,1209.5v10" fill="none" stroke="#e64b35" stroke-width="1.6"/>
<path d="M1692.6,1029.1h10M1697.6,1024.1v10M1707.2,1029.1h10M1712.2,1024.1v10M1708.9,1029.1h10M1713.9,1024.1v10M1710.3,1029.1h10M1715.3,1024.1v10M1721.3,1029.1h10M1726.3,1024.1v10M1722.7,1029.1h10M1727.7,1024.1v10M1724.1,1029.1h10M1729.1,1024.1v10M1725.5,1029.1h10M1730.5,1024.1v10M1731.4,1029.1h10M1736.4,1024.1v10M1735.4,1029.1h10M1740.4,1024.1v10M1743.2,1029.1h10M1748.2,1024.1v10M1745.2,1029.1h10M1750.2,1024.1v10M1748.3,1029.1h10M1753.3,1024.1v10M1763.5,1029.1h10M1768.5,1024.1v10M1764.9,1029.1h10M1769.9,1024.1v10M1794.7,1029.1h10M1799.7,1024.1v10" fill="none" stroke="#4dbbd5" stroke-width="1.6"/>
<path d="M1691.2,1029.1h10M1696.2,1024.1v10M1703.3,1029.1h10M1708.3,1024.1v10M1742.7,1085.1h10M1747.7,1080.1v10M1760.1,1085.1h10M1765.1,1080.1v10M1764.3,1085.1h10M1769.3,1080.1v10M1773.6,1085.1h10M1778.6,1080.1v10M1786.3,1085.1h10M1791.3,1080.1v10M1788.8,1085.1h10M1793.8,1080.1v10M1808.8,1085.1h10M1813.8,1080.1v10M1810.8,1085.1h10M1815.8,1080.1v10" fill="none" stroke="#e64b35" stroke-width="1.6"/>
<text transform="translate(573.6 1626.8) scale(1 1.03)" font-size="33.3" text-anchor="middle">Jiang et al., 2020; <tspan font-style="italic">RUNX1::RUNX1T1</tspan> AML (<tspan font-style="italic">n</tspan> = 51)</text>
<rect x="112.9" y="1647.2" width="451.9" height="375.4" fill="none" stroke="#231f20" stroke-width="2"/>
<path d="M133.0,2022.6v7.5M169.9,2022.6v7.5M206.7,2022.6v7.5M243.6,2022.6v7.5M280.4,2022.6v7.5M317.3,2022.6v7.5M354.2,2022.6v7.5M391.0,2022.6v7.5M427.9,2022.6v7.5M464.7,2022.6v7.5M501.6,2022.6v7.5M112.9,1663.8h-7.5M112.9,1749.1h-7.5M112.9,1834.4h-7.5M112.9,1919.7h-7.5M112.9,2005.0h-7.5" fill="none" stroke="#231f20" stroke-width="1.6"/>
<rect x="589.8" y="1647.2" width="444.9" height="375.4" fill="none" stroke="#231f20" stroke-width="2"/>
<path d="M610.3,2022.6v7.5M647.2,2022.6v7.5M684.0,2022.6v7.5M720.9,2022.6v7.5M757.7,2022.6v7.5M794.6,2022.6v7.5M831.5,2022.6v7.5M868.3,2022.6v7.5M905.2,2022.6v7.5M942.0,2022.6v7.5M978.9,2022.6v7.5" fill="none" stroke="#231f20" stroke-width="1.6"/>
<text transform="translate(100.3 1672.5) scale(1 1.03)" font-size="25" text-anchor="end">1.00</text>
<text transform="translate(100.3 1757.8) scale(1 1.03)" font-size="25" text-anchor="end">0.75</text>
<text transform="translate(100.3 1843.1) scale(1 1.03)" font-size="25" text-anchor="end">0.50</text>
<text transform="translate(100.3 1928.4) scale(1 1.03)" font-size="25" text-anchor="end">0.25</text>
<text transform="translate(100.3 2013.7) scale(1 1.03)" font-size="25" text-anchor="end">0.00</text>
<text transform="translate(31.6,1834.4) rotate(-90) scale(1 1.03)" font-size="28.6" text-anchor="middle">Event−free survival</text>
<text transform="translate(133.0 2056.9) scale(1 1.03)" font-size="25" text-anchor="middle">0</text>
<text transform="translate(169.1 2056.9) scale(1 1.03)" font-size="25" text-anchor="middle">1</text>
<text transform="translate(205.2 2056.9) scale(1 1.03)" font-size="25" text-anchor="middle">2</text>
<text transform="translate(241.2 2056.9) scale(1 1.03)" font-size="25" text-anchor="middle">3</text>
<text transform="translate(277.3 2056.9) scale(1 1.03)" font-size="25" text-anchor="middle">4</text>
<text transform="translate(313.4 2056.9) scale(1 1.03)" font-size="25" text-anchor="middle">5</text>
<text transform="translate(349.5 2056.9) scale(1 1.03)" font-size="25" text-anchor="middle">6</text>
<text transform="translate(385.6 2056.9) scale(1 1.03)" font-size="25" text-anchor="middle">7</text>
<text transform="translate(421.6 2056.9) scale(1 1.03)" font-size="25" text-anchor="middle">8</text>
<text transform="translate(457.7 2056.9) scale(1 1.03)" font-size="25" text-anchor="middle">9</text>
<text transform="translate(501.4 2056.9) scale(1 1.03)" font-size="25" text-anchor="middle">10</text>
<text transform="translate(610.3 2056.9) scale(1 1.03)" font-size="25" text-anchor="middle">0</text>
<text transform="translate(646.4 2056.9) scale(1 1.03)" font-size="25" text-anchor="middle">1</text>
<text transform="translate(682.5 2056.9) scale(1 1.03)" font-size="25" text-anchor="middle">2</text>
<text transform="translate(718.5 2056.9) scale(1 1.03)" font-size="25" text-anchor="middle">3</text>
<text transform="translate(754.6 2056.9) scale(1 1.03)" font-size="25" text-anchor="middle">4</text>
<text transform="translate(790.7 2056.9) scale(1 1.03)" font-size="25" text-anchor="middle">5</text>
<text transform="translate(826.8 2056.9) scale(1 1.03)" font-size="25" text-anchor="middle">6</text>
<text transform="translate(862.9 2056.9) scale(1 1.03)" font-size="25" text-anchor="middle">7</text>
<text transform="translate(898.9 2056.9) scale(1 1.03)" font-size="25" text-anchor="middle">8</text>
<text transform="translate(935.0 2056.9) scale(1 1.03)" font-size="25" text-anchor="middle">9</text>
<text transform="translate(978.7 2056.9) scale(1 1.03)" font-size="25" text-anchor="middle">10</text>
<text transform="translate(568.3 2084.6) scale(1 1.03)" font-size="25" text-anchor="middle">Time (years)</text>
<text transform="translate(4.8 2103.0) scale(1 1.03)" font-size="25">Number at risk</text>
<text transform="translate(5.4 2142.0) scale(1 1.03)" font-size="25" fill="#4dbbd5">Low-risk</text>
<text transform="translate(5.4 2183.6) scale(1 1.03)" font-size="25" fill="#e64b35">High-risk</text>
<text transform="translate(131.2 2142.0) scale(1 1.03)" font-size="25" text-anchor="middle">27</text>
<text transform="translate(177.0 2142.0) scale(1 1.03)" font-size="25" text-anchor="middle">20</text>
<text transform="translate(222.7 2142.0) scale(1 1.03)" font-size="25" text-anchor="middle">15</text>
<text transform="translate(267.0 2142.0) scale(1 1.03)" font-size="25" text-anchor="middle">13</text>
<text transform="translate(311.2 2142.0) scale(1 1.03)" font-size="25" text-anchor="middle">10</text>
<text transform="translate(348.0 2142.0) scale(1 1.03)" font-size="25" text-anchor="middle">9</text>
<text transform="translate(378.7 2142.0) scale(1 1.03)" font-size="25" text-anchor="middle">9</text>
<text transform="translate(409.5 2142.0) scale(1 1.03)" font-size="25" text-anchor="middle">7</text>
<text transform="translate(439.9 2142.0) scale(1 1.03)" font-size="25" text-anchor="middle">3</text>
<text transform="translate(470.6 2142.0) scale(1 1.03)" font-size="25" text-anchor="middle">0</text>
<text transform="translate(501.3 2142.0) scale(1 1.03)" font-size="25" text-anchor="middle">0</text>
<text transform="translate(133.1 2183.6) scale(1 1.03)" font-size="25" text-anchor="middle">15</text>
<text transform="translate(176.2 2183.6) scale(1 1.03)" font-size="25" text-anchor="middle">6</text>
<text transform="translate(211.9 2183.6) scale(1 1.03)" font-size="25" text-anchor="middle">3</text>
<text transform="translate(247.9 2183.6) scale(1 1.03)" font-size="25" text-anchor="middle">3</text>
<text transform="translate(284.2 2183.6) scale(1 1.03)" font-size="25" text-anchor="middle">2</text>
<text transform="translate(319.9 2183.6) scale(1 1.03)" font-size="25" text-anchor="middle">2</text>
<text transform="translate(356.2 2183.6) scale(1 1.03)" font-size="25" text-anchor="middle">1</text>
<text transform="translate(391.9 2183.6) scale(1 1.03)" font-size="25" text-anchor="middle">0</text>
<text transform="translate(428.6 2183.6) scale(1 1.03)" font-size="25" text-anchor="middle">0</text>
<text transform="translate(465.0 2183.6) scale(1 1.03)" font-size="25" text-anchor="middle">0</text>
<text transform="translate(501.3 2183.6) scale(1 1.03)" font-size="25" text-anchor="middle">0</text>
<text transform="translate(610.3 2142.0) scale(1 1.03)" font-size="25" text-anchor="middle">7</text>
<text transform="translate(647.2 2142.0) scale(1 1.03)" font-size="25" text-anchor="middle">4</text>
<text transform="translate(684.0 2142.0) scale(1 1.03)" font-size="25" text-anchor="middle">3</text>
<text transform="translate(720.9 2142.0) scale(1 1.03)" font-size="25" text-anchor="middle">3</text>
<text transform="translate(757.7 2142.0) scale(1 1.03)" font-size="25" text-anchor="middle">3</text>
<text transform="translate(794.6 2142.0) scale(1 1.03)" font-size="25" text-anchor="middle">3</text>
<text transform="translate(831.5 2142.0) scale(1 1.03)" font-size="25" text-anchor="middle">2</text>
<text transform="translate(868.3 2142.0) scale(1 1.03)" font-size="25" text-anchor="middle">2</text>
<text transform="translate(905.2 2142.0) scale(1 1.03)" font-size="25" text-anchor="middle">1</text>
<text transform="translate(942.0 2142.0) scale(1 1.03)" font-size="25" text-anchor="middle">1</text>
<text transform="translate(978.9 2142.0) scale(1 1.03)" font-size="25" text-anchor="middle">0</text>
<text transform="translate(610.3 2183.6) scale(1 1.03)" font-size="25" text-anchor="middle">2</text>
<text transform="translate(647.2 2183.6) scale(1 1.03)" font-size="25" text-anchor="middle">1</text>
<text transform="translate(684.0 2183.6) scale(1 1.03)" font-size="25" text-anchor="middle">0</text>
<text transform="translate(720.9 2183.6) scale(1 1.03)" font-size="25" text-anchor="middle">0</text>
<text transform="translate(757.7 2183.6) scale(1 1.03)" font-size="25" text-anchor="middle">0</text>
<text transform="translate(794.6 2183.6) scale(1 1.03)" font-size="25" text-anchor="middle">0</text>
<text transform="translate(831.5 2183.6) scale(1 1.03)" font-size="25" text-anchor="middle">0</text>
<text transform="translate(868.3 2183.6) scale(1 1.03)" font-size="25" text-anchor="middle">0</text>
<text transform="translate(905.2 2183.6) scale(1 1.03)" font-size="25" text-anchor="middle">0</text>
<text transform="translate(942.0 2183.6) scale(1 1.03)" font-size="25" text-anchor="middle">0</text>
<text transform="translate(978.9 2183.6) scale(1 1.03)" font-size="25" text-anchor="middle">0</text>
<text transform="translate(540.8 1688.8) scale(1 1.03)" font-size="25" text-anchor="end">HSCT: No</text>
<text transform="translate(1017.6 1688.8) scale(1 1.03)" font-size="25" text-anchor="end">HSCT: Yes</text>
<text transform="translate(214.0 1886.0) scale(1 1.03)" font-size="28.5"><tspan font-style="italic">P</tspan> = 0.0019</text>
<text transform="translate(692.5 1886.0) scale(1 1.03)" font-size="28.5"><tspan font-style="italic">P</tspan> = 0.11</text>
<text transform="translate(821.1 1928.0) scale(1 1.03)" font-size="25">Risk score group</text>
<rect x="822.6" y="1946.3" width="22.6" height="21" fill="#cbe7f0"/>
<path d="M824.1,1956.8h19.6M833.9,1951.8v10" fill="none" stroke="#4dbbd5" stroke-width="1.4"/>
<text transform="translate(854.1 1965.3) scale(1 1.03)" font-size="25">Low-risk</text>
<rect x="822.6" y="1978.5" width="22.6" height="21" fill="#f6c9c2"/>
<path d="M824.1,1989.0h19.6M833.9,1984.0v10" fill="none" stroke="#e64b35" stroke-width="1.4"/>
<text transform="translate(854.1 1997.5) scale(1 1.03)" font-size="25">High-risk</text>
<path d="M133.0,1664.3 H135.9 V1675.2 H147.4 V1690.4 H156.9 V1704.8 H169.5 V1719.2 H187.1 V1735.0 H197.1 V1751.7 H214.9 V1768.6 H228.7 V1785.9 H446.9" fill="none" stroke="#4dbbd5" stroke-width="1.9" stroke-linejoin="miter"/>
<path d="M133.0,1664.3 H143.9 V1688.1 H147.4 V1737.0 H150.8 V1761.4 H155.4 V1785.9 H160.3 V1810.3 H165.2 V1834.2 H168.9 V1858.6 H173.2 V1883.0 H181.9 V1907.5 H248.9 V1940.0 H375.1" fill="none" stroke="#e64b35" stroke-width="1.9" stroke-linejoin="miter"/>
<path d="M610.3,1664.3 H650.3 V1749.4 H981.2" fill="none" stroke="#4dbbd5" stroke-width="1.9" stroke-linejoin="miter"/>
<path d="M610.3,1664.3 H641.9 V1834.5 H654.3 V2005.0 H654.3" fill="none" stroke="#e64b35" stroke-width="1.9" stroke-linejoin="miter"/>
<path d="M129.4,1664.3h10M134.4,1659.3v10M131.4,1668.0h10M136.4,1663.0v10M133.8,1676.6h10M138.8,1671.6v10M151.9,1690.4h10M156.9,1685.4v10M169.7,1719.2h10M174.7,1714.2v10M176.9,1719.2h10M181.9,1714.2v10M183.2,1735.0h10M188.2,1730.0v10M247.9,1785.9h10M252.9,1780.9v10M249.6,1785.9h10M254.6,1780.9v10M255.9,1785.9h10M260.9,1780.9v10M290.4,1785.9h10M295.4,1780.9v10M368.9,1785.9h10M373.9,1780.9v10M376.7,1785.9h10M381.7,1780.9v10M387.6,1785.9h10M392.6,1780.9v10M397.7,1785.9h10M402.7,1780.9v10M418.9,1785.9h10M423.9,1780.9v10M424.1,1785.9h10M429.1,1780.9v10M425.6,1785.9h10M430.6,1780.9v10M437.1,1785.9h10M442.1,1780.9v10" fill="none" stroke="#4dbbd5" stroke-width="1.6"/>
<path d="M138.9,1664.3h10M143.9,1659.3v10M200.4,1907.5h10M205.4,1902.5v10M324.9,1940.0h10M329.9,1935.0v10M365.2,1940.0h10M370.2,1935.0v10" fill="none" stroke="#e64b35" stroke-width="1.6"/>
<path d="M615.1,1664.3h10M620.1,1659.3v10M617.4,1664.3h10M622.4,1659.3v10M630.9,1664.3h10M635.9,1659.3v10M807.1,1749.4h10M812.1,1744.4v10M871.0,1749.4h10M876.0,1744.4v10M970.1,1749.4h10M975.1,1744.4v10" fill="none" stroke="#4dbbd5" stroke-width="1.6"/>
<text transform="translate(1635.2 1626.8) scale(1 1.03)" font-size="33.3" text-anchor="middle">Jiang et al., 2020; <tspan font-style="italic">RUNX1::RUNX1T1</tspan> AML (<tspan font-style="italic">n</tspan> = 51)</text>
<rect x="1174.2" y="1647.2" width="451.7" height="375.4" fill="none" stroke="#231f20" stroke-width="2"/>
<path d="M1194.3,2022.6v7.5M1231.2,2022.6v7.5M1268.0,2022.6v7.5M1304.9,2022.6v7.5M1341.7,2022.6v7.5M1378.6,2022.6v7.5M1415.5,2022.6v7.5M1452.3,2022.6v7.5M1489.2,2022.6v7.5M1526.0,2022.6v7.5M1562.9,2022.6v7.5M1174.2,1663.8h-7.5M1174.2,1749.1h-7.5M1174.2,1834.4h-7.5M1174.2,1919.7h-7.5M1174.2,2005.0h-7.5" fill="none" stroke="#231f20" stroke-width="1.6"/>
<rect x="1651.1" y="1647.2" width="444.9" height="375.4" fill="none" stroke="#231f20" stroke-width="2"/>
<path d="M1671.6,2022.6v7.5M1708.5,2022.6v7.5M1745.3,2022.6v7.5M1782.2,2022.6v7.5M1819.0,2022.6v7.5M1855.9,2022.6v7.5M1892.8,2022.6v7.5M1929.6,2022.6v7.5M1966.5,2022.6v7.5M2003.3,2022.6v7.5M2040.2,2022.6v7.5" fill="none" stroke="#231f20" stroke-width="1.6"/>
<text transform="translate(1161.6 1672.5) scale(1 1.03)" font-size="25" text-anchor="end">1.00</text>
<text transform="translate(1161.6 1757.8) scale(1 1.03)" font-size="25" text-anchor="end">0.75</text>
<text transform="translate(1161.6 1843.1) scale(1 1.03)" font-size="25" text-anchor="end">0.50</text>
<text transform="translate(1161.6 1928.4) scale(1 1.03)" font-size="25" text-anchor="end">0.25</text>
<text transform="translate(1161.6 2013.7) scale(1 1.03)" font-size="25" text-anchor="end">0.00</text>
<text transform="translate(1092.9,1834.4) rotate(-90) scale(1 1.03)" font-size="28.6" text-anchor="middle">Overall survival</text>
<text transform="translate(1194.3 2056.9) scale(1 1.03)" font-size="25" text-anchor="middle">0</text>
<text transform="translate(1230.4 2056.9) scale(1 1.03)" font-size="25" text-anchor="middle">1</text>
<text transform="translate(1266.5 2056.9) scale(1 1.03)" font-size="25" text-anchor="middle">2</text>
<text transform="translate(1302.5 2056.9) scale(1 1.03)" font-size="25" text-anchor="middle">3</text>
<text transform="translate(1338.6 2056.9) scale(1 1.03)" font-size="25" text-anchor="middle">4</text>
<text transform="translate(1374.7 2056.9) scale(1 1.03)" font-size="25" text-anchor="middle">5</text>
<text transform="translate(1410.8 2056.9) scale(1 1.03)" font-size="25" text-anchor="middle">6</text>
<text transform="translate(1446.9 2056.9) scale(1 1.03)" font-size="25" text-anchor="middle">7</text>
<text transform="translate(1482.9 2056.9) scale(1 1.03)" font-size="25" text-anchor="middle">8</text>
<text transform="translate(1519.0 2056.9) scale(1 1.03)" font-size="25" text-anchor="middle">9</text>
<text transform="translate(1562.7 2056.9) scale(1 1.03)" font-size="25" text-anchor="middle">10</text>
<text transform="translate(1671.6 2056.9) scale(1 1.03)" font-size="25" text-anchor="middle">0</text>
<text transform="translate(1707.7 2056.9) scale(1 1.03)" font-size="25" text-anchor="middle">1</text>
<text transform="translate(1743.8 2056.9) scale(1 1.03)" font-size="25" text-anchor="middle">2</text>
<text transform="translate(1779.8 2056.9) scale(1 1.03)" font-size="25" text-anchor="middle">3</text>
<text transform="translate(1815.9 2056.9) scale(1 1.03)" font-size="25" text-anchor="middle">4</text>
<text transform="translate(1852.0 2056.9) scale(1 1.03)" font-size="25" text-anchor="middle">5</text>
<text transform="translate(1888.1 2056.9) scale(1 1.03)" font-size="25" text-anchor="middle">6</text>
<text transform="translate(1924.2 2056.9) scale(1 1.03)" font-size="25" text-anchor="middle">7</text>
<text transform="translate(1960.2 2056.9) scale(1 1.03)" font-size="25" text-anchor="middle">8</text>
<text transform="translate(1996.3 2056.9) scale(1 1.03)" font-size="25" text-anchor="middle">9</text>
<text transform="translate(2040.0 2056.9) scale(1 1.03)" font-size="25" text-anchor="middle">10</text>
<text transform="translate(1629.6 2084.6) scale(1 1.03)" font-size="25" text-anchor="middle">Time (years)</text>
<text transform="translate(1066.1 2103.0) scale(1 1.03)" font-size="25">Number at risk</text>
<text transform="translate(1066.7 2142.0) scale(1 1.03)" font-size="25" fill="#4dbbd5">Low-risk</text>
<text transform="translate(1066.7 2183.6) scale(1 1.03)" font-size="25" fill="#e64b35">High-risk</text>
<text transform="translate(1192.5 2142.0) scale(1 1.03)" font-size="25" text-anchor="middle">27</text>
<text transform="translate(1238.3 2142.0) scale(1 1.03)" font-size="25" text-anchor="middle">21</text>
<text transform="translate(1284.0 2142.0) scale(1 1.03)" font-size="25" text-anchor="middle">16</text>
<text transform="translate(1328.3 2142.0) scale(1 1.03)" font-size="25" text-anchor="middle">13</text>
<text transform="translate(1372.5 2142.0) scale(1 1.03)" font-size="25" text-anchor="middle">10</text>
<text transform="translate(1409.3 2142.0) scale(1 1.03)" font-size="25" text-anchor="middle">9</text>
<text transform="translate(1440.0 2142.0) scale(1 1.03)" font-size="25" text-anchor="middle">9</text>
<text transform="translate(1470.8 2142.0) scale(1 1.03)" font-size="25" text-anchor="middle">7</text>
<text transform="translate(1501.2 2142.0) scale(1 1.03)" font-size="25" text-anchor="middle">3</text>
<text transform="translate(1531.9 2142.0) scale(1 1.03)" font-size="25" text-anchor="middle">0</text>
<text transform="translate(1562.6 2142.0) scale(1 1.03)" font-size="25" text-anchor="middle">0</text>
<text transform="translate(1194.4 2183.6) scale(1 1.03)" font-size="25" text-anchor="middle">15</text>
<text transform="translate(1237.5 2183.6) scale(1 1.03)" font-size="25" text-anchor="middle">8</text>
<text transform="translate(1273.2 2183.6) scale(1 1.03)" font-size="25" text-anchor="middle">3</text>
<text transform="translate(1309.2 2183.6) scale(1 1.03)" font-size="25" text-anchor="middle">3</text>
<text transform="translate(1345.5 2183.6) scale(1 1.03)" font-size="25" text-anchor="middle">2</text>
<text transform="translate(1381.2 2183.6) scale(1 1.03)" font-size="25" text-anchor="middle">2</text>
<text transform="translate(1417.5 2183.6) scale(1 1.03)" font-size="25" text-anchor="middle">1</text>
<text transform="translate(1453.2 2183.6) scale(1 1.03)" font-size="25" text-anchor="middle">0</text>
<text transform="translate(1489.9 2183.6) scale(1 1.03)" font-size="25" text-anchor="middle">0</text>
<text transform="translate(1526.3 2183.6) scale(1 1.03)" font-size="25" text-anchor="middle">0</text>
<text transform="translate(1562.6 2183.6) scale(1 1.03)" font-size="25" text-anchor="middle">0</text>
<text transform="translate(1671.6 2142.0) scale(1 1.03)" font-size="25" text-anchor="middle">7</text>
<text transform="translate(1708.5 2142.0) scale(1 1.03)" font-size="25" text-anchor="middle">4</text>
<text transform="translate(1745.3 2142.0) scale(1 1.03)" font-size="25" text-anchor="middle">3</text>
<text transform="translate(1782.2 2142.0) scale(1 1.03)" font-size="25" text-anchor="middle">3</text>
<text transform="translate(1819.0 2142.0) scale(1 1.03)" font-size="25" text-anchor="middle">3</text>
<text transform="translate(1855.9 2142.0) scale(1 1.03)" font-size="25" text-anchor="middle">3</text>
<text transform="translate(1892.8 2142.0) scale(1 1.03)" font-size="25" text-anchor="middle">2</text>
<text transform="translate(1929.6 2142.0) scale(1 1.03)" font-size="25" text-anchor="middle">2</text>
<text transform="translate(1966.5 2142.0) scale(1 1.03)" font-size="25" text-anchor="middle">1</text>
<text transform="translate(2003.3 2142.0) scale(1 1.03)" font-size="25" text-anchor="middle">1</text>
<text transform="translate(2040.2 2142.0) scale(1 1.03)" font-size="25" text-anchor="middle">0</text>
<text transform="translate(1671.6 2183.6) scale(1 1.03)" font-size="25" text-anchor="middle">2</text>
<text transform="translate(1708.5 2183.6) scale(1 1.03)" font-size="25" text-anchor="middle">2</text>
<text transform="translate(1745.3 2183.6) scale(1 1.03)" font-size="25" text-anchor="middle">0</text>
<text transform="translate(1782.2 2183.6) scale(1 1.03)" font-size="25" text-anchor="middle">0</text>
<text transform="translate(1819.0 2183.6) scale(1 1.03)" font-size="25" text-anchor="middle">0</text>
<text transform="translate(1855.9 2183.6) scale(1 1.03)" font-size="25" text-anchor="middle">0</text>
<text transform="translate(1892.8 2183.6) scale(1 1.03)" font-size="25" text-anchor="middle">0</text>
<text transform="translate(1929.6 2183.6) scale(1 1.03)" font-size="25" text-anchor="middle">0</text>
<text transform="translate(1966.5 2183.6) scale(1 1.03)" font-size="25" text-anchor="middle">0</text>
<text transform="translate(2003.3 2183.6) scale(1 1.03)" font-size="25" text-anchor="middle">0</text>
<text transform="translate(2040.2 2183.6) scale(1 1.03)" font-size="25" text-anchor="middle">0</text>
<text transform="translate(1602.1 1688.8) scale(1 1.03)" font-size="25" text-anchor="end">HSCT: No</text>
<text transform="translate(2078.9 1688.8) scale(1 1.03)" font-size="25" text-anchor="end">HSCT: Yes</text>
<text transform="translate(1292.3 1886.0) scale(1 1.03)" font-size="28.5"><tspan font-style="italic">P</tspan> = 0.00054</text>
<text transform="translate(1753.8 1886.0) scale(1 1.03)" font-size="28.5"><tspan font-style="italic">P</tspan> = 0.45</text>
<text transform="translate(1882.4 1928.0) scale(1 1.03)" font-size="25">Risk score group</text>
<rect x="1883.9" y="1946.3" width="22.6" height="21" fill="#cbe7f0"/>
<path d="M1885.4,1956.8h19.6M1895.2,1951.8v10" fill="none" stroke="#4dbbd5" stroke-width="1.4"/>
<text transform="translate(1915.4 1965.3) scale(1 1.03)" font-size="25">Low-risk</text>
<rect x="1883.9" y="1978.5" width="22.6" height="21" fill="#f6c9c2"/>
<path d="M1885.4,1989.0h19.6M1895.2,1984.0v10" fill="none" stroke="#e64b35" stroke-width="1.4"/>
<text transform="translate(1915.4 1997.5) scale(1 1.03)" font-size="25">High-risk</text>
<path d="M1193.6,1664.3 H1229.5 V1678.9 H1238.1 V1696.2 H1247.0 V1713.1 H1267.8 V1730.7 H1290.8 V1750.8 H1507.0" fill="none" stroke="#4dbbd5" stroke-width="1.9" stroke-linejoin="miter"/>
<path d="M1193.6,1664.3 H1207.4 V1688.1 H1210.8 V1737.0 H1219.7 V1785.9 H1237.6 V1813.2 H1241.3 V1840.5 H1252.5 V1867.8 H1258.3 V1895.1 H1308.9 V1931.6 H1435.1" fill="none" stroke="#e64b35" stroke-width="1.9" stroke-linejoin="miter"/>
<path d="M1672.1,1664.3 H1727.0 V1749.4 H2042.4" fill="none" stroke="#4dbbd5" stroke-width="1.9" stroke-linejoin="miter"/>
<path d="M1672.1,1664.3 H1715.5 V1834.5 H1747.7" fill="none" stroke="#e64b35" stroke-width="1.9" stroke-linejoin="miter"/>
<path d="M1190.3,1664.3h10M1195.3,1659.3v10M1191.7,1664.3h10M1196.7,1659.3v10M1193.2,1664.3h10M1198.2,1659.3v10M1194.6,1664.3h10M1199.6,1659.3v10M1203.8,1664.3h10M1208.8,1659.3v10M1211.6,1664.3h10M1216.6,1659.3v10M1229.1,1676.6h10M1234.1,1671.6v10M1233.1,1680.9h10M1238.1,1675.9v10M1236.9,1693.9h10M1241.9,1688.9v10M1241.2,1698.2h10M1246.2,1693.2v10M1243.2,1713.1h10M1248.2,1708.1v10M1282.0,1730.7h10M1287.0,1725.7v10M1307.9,1750.8h10M1312.9,1745.8v10M1309.6,1750.8h10M1314.6,1745.8v10M1315.9,1750.8h10M1320.9,1745.8v10M1351.0,1750.8h10M1356.0,1745.8v10M1428.9,1750.8h10M1433.9,1745.8v10M1436.7,1750.8h10M1441.7,1745.8v10M1447.6,1750.8h10M1452.6,1745.8v10M1458.2,1750.8h10M1463.2,1745.8v10M1479.0,1750.8h10M1484.0,1745.8v10M1484.1,1750.8h10M1489.1,1745.8v10M1485.6,1750.8h10M1490.6,1745.8v10M1497.1,1750.8h10M1502.1,1745.8v10" fill="none" stroke="#4dbbd5" stroke-width="1.6"/>
<path d="M1198.9,1664.3h10M1203.9,1659.3v10M1224.8,1785.9h10M1229.8,1780.9v10M1260.5,1895.1h10M1265.5,1890.1v10M1384.9,1931.6h10M1389.9,1926.6v10M1425.2,1931.6h10M1430.2,1926.6v10" fill="none" stroke="#e64b35" stroke-width="1.6"/>
<path d="M1676.0,1664.3h10M1681.0,1659.3v10M1678.0,1664.3h10M1683.0,1659.3v10M1691.8,1664.3h10M1696.8,1659.3v10M1867.8,1749.4h10M1872.8,1744.4v10M1931.9,1749.4h10M1936.9,1744.4v10M2031.6,1749.4h10M2036.6,1744.4v10" fill="none" stroke="#4dbbd5" stroke-width="1.6"/>
<path d="M1736.9,1834.5h10M1741.9,1829.5v10" fill="none" stroke="#e64b35" stroke-width="1.6"/>
<text transform="translate(914.0 2252.5) scale(1 1.03)" font-size="33.3" text-anchor="middle">Event−free survival</text>
<text transform="translate(1707.0 2252.5) scale(1 1.03)" font-size="33.3" text-anchor="middle">Overall survival</text>
<text transform="translate(15.6 2305.9) scale(1 1.03)" font-size="29.25">Characteristics</text>
<text transform="translate(612.0 2305.9) scale(1 1.03)" font-size="29.25" text-anchor="middle">Hazard ratio (95% CI)</text>
<text transform="translate(1152.5 2305.9) scale(1 1.03)" font-size="29.25" text-anchor="middle"><tspan font-style="italic">P</tspan>−value</text>
<text transform="translate(1452.5 2305.9) scale(1 1.03)" font-size="29.25" text-anchor="middle">Hazard ratio (95% CI)</text>
<text transform="translate(1975.5 2305.9) scale(1 1.03)" font-size="29.25" text-anchor="middle"><tspan font-style="italic">P</tspan>−value</text>
<line x1="15.3" y1="2318.6" x2="1218.8" y2="2318.6" stroke="#231f20" stroke-width="2.2"/>
<line x1="1277.5" y1="2318.6" x2="2039.8" y2="2318.6" stroke="#231f20" stroke-width="2.2"/>
<line x1="15.3" y1="2626.8" x2="1218.8" y2="2626.8" stroke="#231f20" stroke-width="2.2"/>
<line x1="1277.5" y1="2626.8" x2="2039.8" y2="2626.8" stroke="#231f20" stroke-width="2.2"/>
<line x1="15.3" y1="2935.1" x2="1218.8" y2="2935.1" stroke="#231f20" stroke-width="2.2"/>
<line x1="1277.5" y1="2935.1" x2="2039.8" y2="2935.1" stroke="#231f20" stroke-width="2.2"/>
<text transform="translate(15.8 2349.6) scale(1 1.03)" font-size="29.25" font-weight="bold">Univariate Cox analysis</text>
<text transform="translate(15.8 2656.9) scale(1 1.03)" font-size="29.25" font-weight="bold">Multivariate Cox analysis</text>
<line x1="903.1" y1="2362.6" x2="903.1" y2="2935.0" stroke="#7f7f7f" stroke-width="1.8"/>
<line x1="1757.2" y1="2362.6" x2="1757.2" y2="2935.0" stroke="#7f7f7f" stroke-width="1.8"/>
<text transform="translate(48.8 2393.8) scale(1 1.03)" font-size="29.25">HSCT status (yes vs no)</text>
<text transform="translate(612.0 2393.8) scale(1 1.03)" font-size="29.25" text-anchor="middle">0.542 (0.255−1.155)</text>
<text transform="translate(1152.5 2393.8) scale(1 1.03)" font-size="29.25" text-anchor="middle">0.113</text>
<path d="M798.8,2385.0H914.0M798.8,2380.0v10M914.0,2380.0v10" fill="none" stroke="#1f62b7" stroke-width="2"/>
<rect x="850.8" y="2379.6" width="11" height="10.8" fill="#1f62b7"/>
<text transform="translate(1452.5 2393.8) scale(1 1.03)" font-size="29.25" text-anchor="middle">0.178 (0.041−0.768)</text>
<text transform="translate(1975.5 2393.8) scale(1 1.03)" font-size="29.25" text-anchor="middle">0.021</text>
<path d="M1623.3,2385.0H1746.1M1623.3,2380.0v10M1746.1,2380.0v10" fill="none" stroke="#1f62b7" stroke-width="2"/>
<rect x="1679.4" y="2379.6" width="11" height="10.8" fill="#1f62b7"/>
<text transform="translate(48.8 2437.7) scale(1 1.03)" font-size="29.25"><tspan font-style="italic">KIT</tspan> mutation (yes vs no)</text>
<text transform="translate(612.0 2437.7) scale(1 1.03)" font-size="29.25" text-anchor="middle">1.978 (1.030−3.797)</text>
<text transform="translate(1152.5 2437.7) scale(1 1.03)" font-size="29.25" text-anchor="middle">0.040</text>
<path d="M905.3,2428.9H1004.7M905.3,2423.9v10M1004.7,2423.9v10" fill="none" stroke="#1f62b7" stroke-width="2"/>
<rect x="949.5" y="2423.5" width="11" height="10.8" fill="#1f62b7"/>
<text transform="translate(1452.5 2437.7) scale(1 1.03)" font-size="29.25" text-anchor="middle">2.075 (0.885−4.864)</text>
<text transform="translate(1975.5 2437.7) scale(1 1.03)" font-size="29.25" text-anchor="middle">0.093</text>
<path d="M1752.1,2428.9H1823.5M1752.1,2423.9v10M1823.5,2423.9v10" fill="none" stroke="#1f62b7" stroke-width="2"/>
<rect x="1782.3" y="2423.5" width="11" height="10.8" fill="#1f62b7"/>
<text transform="translate(48.8 2481.6) scale(1 1.03)" font-size="29.25">Age (&gt;60 vs ≤ 60)</text>
<text transform="translate(612.0 2481.6) scale(1 1.03)" font-size="29.25" text-anchor="middle">5.349 (2.601−11.002)</text>
<text transform="translate(1152.5 2481.6) scale(1 1.03)" font-size="29.25" text-anchor="middle">0.000</text>
<path d="M975.9,2472.8H1085.8M975.9,2467.8v10M1085.8,2467.8v10" fill="none" stroke="#1f62b7" stroke-width="2"/>
<rect x="1025.3" y="2467.4" width="11" height="10.8" fill="#1f62b7"/>
<text transform="translate(1452.5 2481.6) scale(1 1.03)" font-size="29.25" text-anchor="middle">6.589 (2.681−16.191)</text>
<text transform="translate(1975.5 2481.6) scale(1 1.03)" font-size="29.25" text-anchor="middle">0.000</text>
<path d="M1798.5,2472.8H1873.9M1798.5,2467.8v10M1873.9,2467.8v10" fill="none" stroke="#1f62b7" stroke-width="2"/>
<rect x="1830.7" y="2467.4" width="11" height="10.8" fill="#1f62b7"/>
<text transform="translate(48.8 2525.5) scale(1 1.03)" font-size="29.25">WBC count (&gt;10 vs ≤ 10)</text>
<text transform="translate(612.0 2525.5) scale(1 1.03)" font-size="29.25" text-anchor="middle">1.581 (0.836−2.991)</text>
<text transform="translate(1152.5 2525.5) scale(1 1.03)" font-size="29.25" text-anchor="middle">0.159</text>
<path d="M889.3,2516.7H986.5M889.3,2511.7v10M986.5,2511.7v10" fill="none" stroke="#1f62b7" stroke-width="2"/>
<rect x="932.4" y="2511.3" width="11" height="10.8" fill="#1f62b7"/>
<text transform="translate(1452.5 2525.5) scale(1 1.03)" font-size="29.25" text-anchor="middle">2.619 (1.098−6.245)</text>
<text transform="translate(1975.5 2525.5) scale(1 1.03)" font-size="29.25" text-anchor="middle">0.030</text>
<path d="M1761.1,2516.7H1834.0M1761.1,2511.7v10M1834.0,2511.7v10" fill="none" stroke="#1f62b7" stroke-width="2"/>
<rect x="1792.1" y="2511.3" width="11" height="10.8" fill="#1f62b7"/>
<text transform="translate(48.8 2569.4) scale(1 1.03)" font-size="29.25">BM blast (&gt;65% vs ≤65%)</text>
<text transform="translate(612.0 2569.4) scale(1 1.03)" font-size="29.25" text-anchor="middle">2.666 (1.409−5.045)</text>
<text transform="translate(1152.5 2569.4) scale(1 1.03)" font-size="29.25" text-anchor="middle">0.003</text>
<path d="M929.1,2560.6H1026.4M929.1,2555.6v10M1026.4,2555.6v10" fill="none" stroke="#1f62b7" stroke-width="2"/>
<rect x="972.2" y="2555.2" width="11" height="10.8" fill="#1f62b7"/>
<text transform="translate(1452.5 2569.4) scale(1 1.03)" font-size="29.25" text-anchor="middle">4.098 (1.751−9.589)</text>
<text transform="translate(1975.5 2569.4) scale(1 1.03)" font-size="29.25" text-anchor="middle">0.001</text>
<path d="M1780.7,2560.6H1851.9M1780.7,2555.6v10M1851.9,2555.6v10" fill="none" stroke="#1f62b7" stroke-width="2"/>
<rect x="1810.8" y="2555.2" width="11" height="10.8" fill="#1f62b7"/>
<text transform="translate(48.8 2613.3) scale(1 1.03)" font-size="29.25">Risk group (high vs low)</text>
<text transform="translate(612.0 2613.3) scale(1 1.03)" font-size="29.25" text-anchor="middle">5.068 (2.395−10.726)</text>
<text transform="translate(1152.5 2613.3) scale(1 1.03)" font-size="29.25" text-anchor="middle">0.000</text>
<path d="M969.6,2604.5H1083.8M969.6,2599.5v10M1083.8,2599.5v10" fill="none" stroke="#1f62b7" stroke-width="2"/>
<rect x="1021.2" y="2599.1" width="11" height="10.8" fill="#1f62b7"/>
<text transform="translate(1452.5 2613.3) scale(1 1.03)" font-size="29.25" text-anchor="middle">6.185 (2.092−18.286)</text>
<text transform="translate(1975.5 2613.3) scale(1 1.03)" font-size="29.25" text-anchor="middle">0.001</text>
<path d="M1788.1,2604.5H1879.0M1788.1,2599.5v10M1879.0,2599.5v10" fill="none" stroke="#1f62b7" stroke-width="2"/>
<rect x="1828.1" y="2599.1" width="11" height="10.8" fill="#1f62b7"/>
<text transform="translate(48.8 2701.9) scale(1 1.03)" font-size="29.25">HSCT status (yes vs no)</text>
<text transform="translate(612.0 2701.9) scale(1 1.03)" font-size="29.25" text-anchor="middle">0.746 (0.337−1.654)</text>
<text transform="translate(1152.5 2701.9) scale(1 1.03)" font-size="29.25" text-anchor="middle">0.471</text>
<path d="M820.1,2693.1H941.4M820.1,2688.1v10M941.4,2688.1v10" fill="none" stroke="#1f62b7" stroke-width="2"/>
<rect x="875.2" y="2687.7" width="11" height="10.8" fill="#1f62b7"/>
<text transform="translate(1452.5 2701.9) scale(1 1.03)" font-size="29.25" text-anchor="middle">0.240 (0.053−1.074)</text>
<text transform="translate(1975.5 2701.9) scale(1 1.03)" font-size="29.25" text-anchor="middle">0.062</text>
<path d="M1634.1,2693.1H1760.2M1634.1,2688.1v10M1760.2,2688.1v10" fill="none" stroke="#1f62b7" stroke-width="2"/>
<rect x="1691.9" y="2687.7" width="11" height="10.8" fill="#1f62b7"/>
<text transform="translate(48.8 2746.0) scale(1 1.03)" font-size="29.25"><tspan font-style="italic">KIT</tspan> mutation (yes vs no)</text>
<text transform="translate(612.0 2746.0) scale(1 1.03)" font-size="29.25" text-anchor="middle">1.366 (0.667−2.797)</text>
<text transform="translate(1152.5 2746.0) scale(1 1.03)" font-size="29.25" text-anchor="middle">0.393</text>
<path d="M872.1,2737.2H981.4M872.1,2732.2v10M981.4,2732.2v10" fill="none" stroke="#1f62b7" stroke-width="2"/>
<rect x="921.3" y="2731.8" width="11" height="10.8" fill="#1f62b7"/>
<text transform="translate(1452.5 2746.0) scale(1 1.03)" font-size="29.25" text-anchor="middle">1.076 (0.421−2.747)</text>
<text transform="translate(1975.5 2746.0) scale(1 1.03)" font-size="29.25" text-anchor="middle">0.878</text>
<path d="M1720.9,2737.2H1799.5M1720.9,2732.2v10M1799.5,2732.2v10" fill="none" stroke="#1f62b7" stroke-width="2"/>
<rect x="1754.8" y="2731.8" width="11" height="10.8" fill="#1f62b7"/>
<text transform="translate(48.8 2790.1) scale(1 1.03)" font-size="29.25">Age (&gt;60 vs ≤ 60)</text>
<text transform="translate(612.0 2790.1) scale(1 1.03)" font-size="29.25" text-anchor="middle">4.066 (1.792−9.227)</text>
<text transform="translate(1152.5 2790.1) scale(1 1.03)" font-size="29.25" text-anchor="middle">0.001</text>
<path d="M947.5,2781.3H1072.4M947.5,2776.3v10M1072.4,2776.3v10" fill="none" stroke="#1f62b7" stroke-width="2"/>
<rect x="1004.4" y="2775.9" width="11" height="10.8" fill="#1f62b7"/>
<text transform="translate(1452.5 2790.1) scale(1 1.03)" font-size="29.25" text-anchor="middle">3.172 (1.138−8.843)</text>
<text transform="translate(1975.5 2790.1) scale(1 1.03)" font-size="29.25" text-anchor="middle">0.027</text>
<path d="M1762.6,2781.3H1848.5M1762.6,2776.3v10M1848.5,2776.3v10" fill="none" stroke="#1f62b7" stroke-width="2"/>
<rect x="1800.1" y="2775.9" width="11" height="10.8" fill="#1f62b7"/>
<text transform="translate(48.8 2834.2) scale(1 1.03)" font-size="29.25">WBC count (&gt;10 vs ≤ 10)</text>
<text transform="translate(612.0 2834.2) scale(1 1.03)" font-size="29.25" text-anchor="middle">0.783 (0.388−1.582)</text>
<text transform="translate(1152.5 2834.2) scale(1 1.03)" font-size="29.25" text-anchor="middle">0.496</text>
<path d="M830.8,2825.4H938.0M830.8,2820.4v10M938.0,2820.4v10" fill="none" stroke="#1f62b7" stroke-width="2"/>
<rect x="878.9" y="2820.0" width="11" height="10.8" fill="#1f62b7"/>
<text transform="translate(1452.5 2834.2) scale(1 1.03)" font-size="29.25" text-anchor="middle">1.382 (0.528−3.619)</text>
<text transform="translate(1975.5 2834.2) scale(1 1.03)" font-size="29.25" text-anchor="middle">0.510</text>
<path d="M1730.4,2825.4H1811.1M1730.4,2820.4v10M1811.1,2820.4v10" fill="none" stroke="#1f62b7" stroke-width="2"/>
<rect x="1765.3" y="2820.0" width="11" height="10.8" fill="#1f62b7"/>
<text transform="translate(48.8 2878.3) scale(1 1.03)" font-size="29.25">BM blast (&gt;65% vs ≤65%)</text>
<text transform="translate(612.0 2878.3) scale(1 1.03)" font-size="29.25" text-anchor="middle">0.970 (0.446−2.112)</text>
<text transform="translate(1152.5 2878.3) scale(1 1.03)" font-size="29.25" text-anchor="middle">0.940</text>
<path d="M841.5,2869.5H960.0M841.5,2864.5v10M960.0,2864.5v10" fill="none" stroke="#1f62b7" stroke-width="2"/>
<rect x="895.2" y="2864.1" width="11" height="10.8" fill="#1f62b7"/>
<text transform="translate(1452.5 2878.3) scale(1 1.03)" font-size="29.25" text-anchor="middle">1.729 (0.611−4.894)</text>
<text transform="translate(1975.5 2878.3) scale(1 1.03)" font-size="29.25" text-anchor="middle">0.303</text>
<path d="M1736.6,2869.5H1823.8M1736.6,2864.5v10M1823.8,2864.5v10" fill="none" stroke="#1f62b7" stroke-width="2"/>
<rect x="1774.6" y="2864.1" width="11" height="10.8" fill="#1f62b7"/>
<text transform="translate(48.8 2922.4) scale(1 1.03)" font-size="29.25">Risk group (high vs low)</text>
<text transform="translate(612.0 2922.4) scale(1 1.03)" font-size="29.25" text-anchor="middle">4.780 (1.981−11.534)</text>
<text transform="translate(1152.5 2922.4) scale(1 1.03)" font-size="29.25" text-anchor="middle">0.000</text>
<path d="M955.1,2913.6H1089.4M955.1,2908.6v10M1089.4,2908.6v10" fill="none" stroke="#1f62b7" stroke-width="2"/>
<rect x="1016.7" y="2908.2" width="11" height="10.8" fill="#1f62b7"/>
<text transform="translate(1452.5 2922.4) scale(1 1.03)" font-size="29.25" text-anchor="middle">3.454 (0.958−12.457)</text>
<text transform="translate(1975.5 2922.4) scale(1 1.03)" font-size="29.25" text-anchor="middle">0.058</text>
<path d="M1755.4,2913.6H1862.9M1755.4,2908.6v10M1862.9,2908.6v10" fill="none" stroke="#1f62b7" stroke-width="2"/>
<rect x="1803.6" y="2908.2" width="11" height="10.8" fill="#1f62b7"/>
<text transform="translate(815.0 2968.8) scale(1 1.03)" font-size="24" text-anchor="middle">−0.5</text>
<text transform="translate(903.0 2968.8) scale(1 1.03)" font-size="24" text-anchor="middle">0</text>
<text transform="translate(991.0 2968.8) scale(1 1.03)" font-size="24" text-anchor="middle">0.5</text>
<text transform="translate(1079.0 2968.8) scale(1 1.03)" font-size="24" text-anchor="middle">1</text>
<text transform="translate(1612.5 2968.8) scale(1 1.03)" font-size="24" text-anchor="middle">−1.5</text>
<text transform="translate(1660.7 2968.8) scale(1 1.03)" font-size="24" text-anchor="middle">−1</text>
<text transform="translate(1709.0 2968.8) scale(1 1.03)" font-size="24" text-anchor="middle">−0.5</text>
<text transform="translate(1757.2 2968.8) scale(1 1.03)" font-size="24" text-anchor="middle">0</text>
<text transform="translate(1805.5 2968.8) scale(1 1.03)" font-size="24" text-anchor="middle">0.5</text>
<text transform="translate(1853.7 2968.8) scale(1 1.03)" font-size="24" text-anchor="middle">1</text>
<text transform="translate(1902.0 2968.8) scale(1 1.03)" font-size="24" text-anchor="middle">1.5</text>
<path d="M815.0,2935v7.5M903.0,2935v7.5M991.0,2935v7.5M1079.0,2935v7.5M1612.5,2935v7.5M1660.7,2935v7.5M1709.0,2935v7.5M1757.2,2935v7.5M1805.5,2935v7.5M1853.7,2935v7.5M1902.0,2935v7.5" fill="none" stroke="#231f20" stroke-width="1.6"/>
<text transform="translate(702.5 2999.0) scale(1 1.03)" font-size="24">&lt;−−− Better −−−</text>
<text transform="translate(922.0 2999.0) scale(1 1.03)" font-size="24">−−− Worse −−−&gt;</text>
<text transform="translate(1557.0 2999.0) scale(1 1.03)" font-size="24">&lt;−−− Better −−−</text>
<text transform="translate(1775.7 2999.0) scale(1 1.03)" font-size="24">−−− Worse −−−&gt;</text>
</svg>
</body></html>
